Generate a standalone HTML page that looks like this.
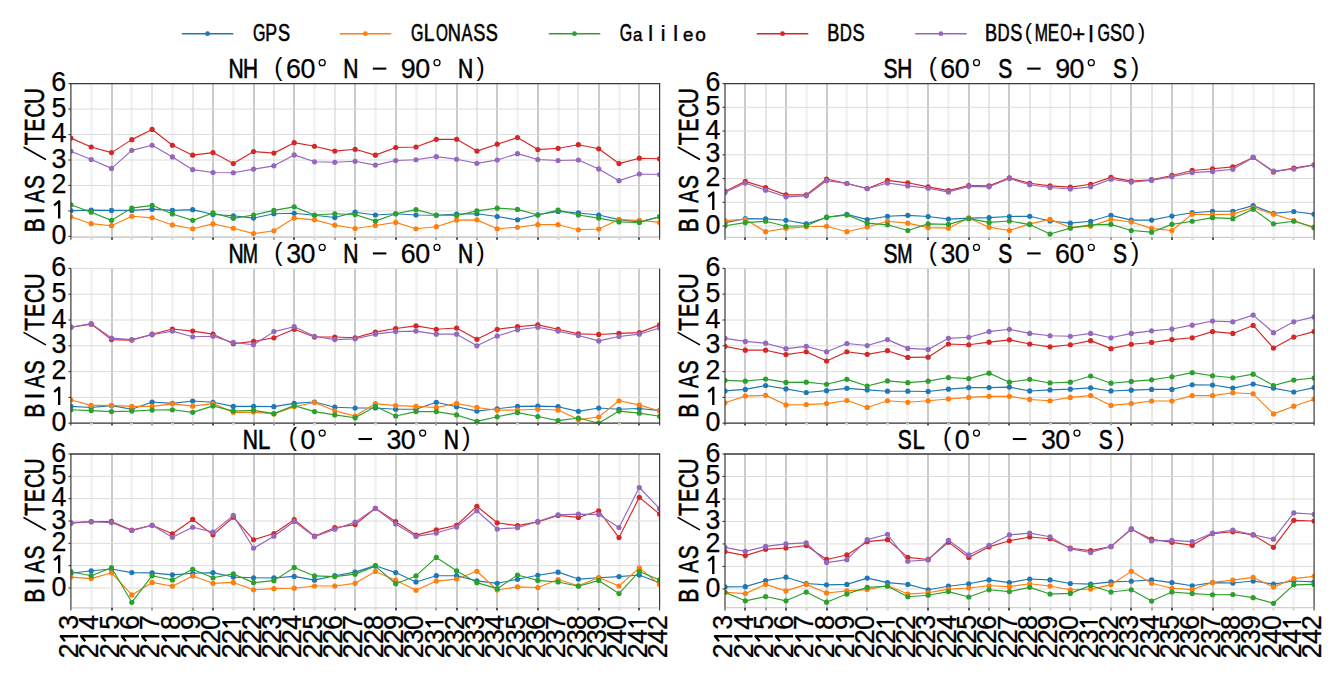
<!DOCTYPE html>
<html><head><meta charset="utf-8"><style>
html,body{margin:0;padding:0;background:#fff;overflow:hidden;}
svg{display:block;}
</style></head><body>
<svg width="1337" height="676" viewBox="0 0 1337 676">
<rect width="1337" height="676" fill="#fff"/>
<g stroke="#dcdcdc" stroke-width="1" fill="none"><rect x="90" y="83.60" width="3" height="153.70" fill="#f4f4f4" stroke="none"/><rect x="111" y="83.60" width="2" height="153.70" fill="#cbcbcb" stroke="none"/><rect x="130" y="83.60" width="3" height="153.70" fill="#f4f4f4" stroke="none"/><rect x="151" y="83.60" width="2" height="153.70" fill="#e7e7e7" stroke="none"/><rect x="171" y="83.60" width="3" height="153.70" fill="#f4f4f4" stroke="none"/><rect x="192" y="83.60" width="2" height="153.70" fill="#e7e7e7" stroke="none"/><rect x="212" y="83.60" width="2" height="153.70" fill="#cbcbcb" stroke="none"/><rect x="232" y="83.60" width="3" height="153.70" fill="#f4f4f4" stroke="none"/><rect x="253" y="83.60" width="2" height="153.70" fill="#cbcbcb" stroke="none"/><rect x="273" y="83.60" width="2" height="153.70" fill="#e7e7e7" stroke="none"/><rect x="293" y="83.60" width="2" height="153.70" fill="#cbcbcb" stroke="none"/><rect x="313" y="83.60" width="3" height="153.70" fill="#f4f4f4" stroke="none"/><rect x="334" y="83.60" width="2" height="153.70" fill="#e7e7e7" stroke="none"/><rect x="354" y="83.60" width="2" height="153.70" fill="#cbcbcb" stroke="none"/><rect x="374" y="83.60" width="3" height="153.70" fill="#f4f4f4" stroke="none"/><rect x="395" y="83.60" width="2" height="153.70" fill="#cbcbcb" stroke="none"/><rect x="415" y="83.60" width="3" height="153.70" fill="#f4f4f4" stroke="none"/><rect x="435" y="83.60" width="2" height="153.70" fill="#e7e7e7" stroke="none"/><rect x="456" y="83.60" width="2" height="153.70" fill="#cbcbcb" stroke="none"/><rect x="476" y="83.60" width="2" height="153.70" fill="#e7e7e7" stroke="none"/><rect x="496" y="83.60" width="2" height="153.70" fill="#cbcbcb" stroke="none"/><rect x="516" y="83.60" width="3" height="153.70" fill="#f4f4f4" stroke="none"/><rect x="537" y="83.60" width="2" height="153.70" fill="#cbcbcb" stroke="none"/><rect x="557" y="83.60" width="3" height="153.70" fill="#f4f4f4" stroke="none"/><rect x="577" y="83.60" width="2" height="153.70" fill="#e7e7e7" stroke="none"/><rect x="598" y="83.60" width="2" height="153.70" fill="#cbcbcb" stroke="none"/><rect x="618" y="83.60" width="3" height="153.70" fill="#f4f4f4" stroke="none"/><rect x="638" y="83.60" width="2" height="153.70" fill="#cbcbcb" stroke="none"/><line x1="70.90" y1="236.40" x2="659.60" y2="236.40" /><line x1="70.90" y1="210.93" x2="659.60" y2="210.93" /><line x1="70.90" y1="185.47" x2="659.60" y2="185.47" /><line x1="70.90" y1="160.00" x2="659.60" y2="160.00" /><line x1="70.90" y1="134.53" x2="659.60" y2="134.53" /><line x1="70.90" y1="109.07" x2="659.60" y2="109.07" /><line x1="70.90" y1="83.60" x2="659.60" y2="83.60" /></g>
<line x1="70.90" y1="237.30" x2="659.60" y2="237.30" stroke="#cfcfcf" stroke-width="1.2"/>
<clipPath id="clipNH"><rect x="70.90" y="83.60" width="588.70" height="153.70"/></clipPath>
<g clip-path="url(#clipNH)">
<polyline points="70.90,210.68 91.20,210.17 111.50,210.42 131.80,210.42 152.10,209.15 172.40,210.42 192.70,209.66 213.00,214.50 233.30,215.77 253.60,218.06 273.90,213.73 294.20,213.23 314.50,215.26 334.80,217.55 355.10,212.21 375.40,215.01 395.70,213.73 416.00,215.01 436.30,215.26 456.60,213.99 476.90,213.73 497.20,216.54 517.50,219.85 537.80,214.75 558.10,211.44 578.40,212.97 598.70,215.01 619.00,219.59 639.30,221.88 659.60,216.79" fill="none" stroke="#1f77b4" stroke-width="1.15" stroke-linejoin="round"/>
<g fill="#1f77b4"><circle cx="70.90" cy="210.68" r="2.6"/><circle cx="91.20" cy="210.17" r="2.6"/><circle cx="111.50" cy="210.42" r="2.6"/><circle cx="131.80" cy="210.42" r="2.6"/><circle cx="152.10" cy="209.15" r="2.6"/><circle cx="172.40" cy="210.42" r="2.6"/><circle cx="192.70" cy="209.66" r="2.6"/><circle cx="213.00" cy="214.50" r="2.6"/><circle cx="233.30" cy="215.77" r="2.6"/><circle cx="253.60" cy="218.06" r="2.6"/><circle cx="273.90" cy="213.73" r="2.6"/><circle cx="294.20" cy="213.23" r="2.6"/><circle cx="314.50" cy="215.26" r="2.6"/><circle cx="334.80" cy="217.55" r="2.6"/><circle cx="355.10" cy="212.21" r="2.6"/><circle cx="375.40" cy="215.01" r="2.6"/><circle cx="395.70" cy="213.73" r="2.6"/><circle cx="416.00" cy="215.01" r="2.6"/><circle cx="436.30" cy="215.26" r="2.6"/><circle cx="456.60" cy="213.99" r="2.6"/><circle cx="476.90" cy="213.73" r="2.6"/><circle cx="497.20" cy="216.54" r="2.6"/><circle cx="517.50" cy="219.85" r="2.6"/><circle cx="537.80" cy="214.75" r="2.6"/><circle cx="558.10" cy="211.44" r="2.6"/><circle cx="578.40" cy="212.97" r="2.6"/><circle cx="598.70" cy="215.01" r="2.6"/><circle cx="619.00" cy="219.59" r="2.6"/><circle cx="639.30" cy="221.88" r="2.6"/><circle cx="659.60" cy="216.79" r="2.6"/></g>
<polyline points="70.90,216.79 91.20,223.67 111.50,225.70 131.80,216.28 152.10,217.81 172.40,224.94 192.70,228.76 213.00,223.92 233.30,228.25 253.60,233.60 273.90,230.80 294.20,218.06 314.50,219.85 334.80,225.19 355.10,228.51 375.40,225.45 395.70,222.39 416.00,228.76 436.30,226.72 456.60,220.10 476.90,219.85 497.20,228.76 517.50,227.23 537.80,224.69 558.10,224.69 578.40,229.78 598.70,229.01 619.00,219.59 639.30,220.36 659.60,222.39" fill="none" stroke="#ff7f0e" stroke-width="1.15" stroke-linejoin="round"/>
<g fill="#ff7f0e"><circle cx="70.90" cy="216.79" r="2.6"/><circle cx="91.20" cy="223.67" r="2.6"/><circle cx="111.50" cy="225.70" r="2.6"/><circle cx="131.80" cy="216.28" r="2.6"/><circle cx="152.10" cy="217.81" r="2.6"/><circle cx="172.40" cy="224.94" r="2.6"/><circle cx="192.70" cy="228.76" r="2.6"/><circle cx="213.00" cy="223.92" r="2.6"/><circle cx="233.30" cy="228.25" r="2.6"/><circle cx="253.60" cy="233.60" r="2.6"/><circle cx="273.90" cy="230.80" r="2.6"/><circle cx="294.20" cy="218.06" r="2.6"/><circle cx="314.50" cy="219.85" r="2.6"/><circle cx="334.80" cy="225.19" r="2.6"/><circle cx="355.10" cy="228.51" r="2.6"/><circle cx="375.40" cy="225.45" r="2.6"/><circle cx="395.70" cy="222.39" r="2.6"/><circle cx="416.00" cy="228.76" r="2.6"/><circle cx="436.30" cy="226.72" r="2.6"/><circle cx="456.60" cy="220.10" r="2.6"/><circle cx="476.90" cy="219.85" r="2.6"/><circle cx="497.20" cy="228.76" r="2.6"/><circle cx="517.50" cy="227.23" r="2.6"/><circle cx="537.80" cy="224.69" r="2.6"/><circle cx="558.10" cy="224.69" r="2.6"/><circle cx="578.40" cy="229.78" r="2.6"/><circle cx="598.70" cy="229.01" r="2.6"/><circle cx="619.00" cy="219.59" r="2.6"/><circle cx="639.30" cy="220.36" r="2.6"/><circle cx="659.60" cy="222.39" r="2.6"/></g>
<polyline points="70.90,204.82 91.20,212.21 111.50,220.36 131.80,208.13 152.10,205.33 172.40,213.99 192.70,220.36 213.00,212.97 233.30,218.32 253.60,215.01 273.90,210.42 294.20,206.86 314.50,215.01 334.80,213.73 355.10,214.50 375.40,221.12 395.70,213.73 416.00,209.66 436.30,215.01 456.60,215.52 476.90,210.93 497.20,208.13 517.50,209.41 537.80,215.01 558.10,210.17 578.40,215.01 598.70,218.06 619.00,221.88 639.30,222.39 659.60,216.79" fill="none" stroke="#2ca02c" stroke-width="1.15" stroke-linejoin="round"/>
<g fill="#2ca02c"><circle cx="70.90" cy="204.82" r="2.6"/><circle cx="91.20" cy="212.21" r="2.6"/><circle cx="111.50" cy="220.36" r="2.6"/><circle cx="131.80" cy="208.13" r="2.6"/><circle cx="152.10" cy="205.33" r="2.6"/><circle cx="172.40" cy="213.99" r="2.6"/><circle cx="192.70" cy="220.36" r="2.6"/><circle cx="213.00" cy="212.97" r="2.6"/><circle cx="233.30" cy="218.32" r="2.6"/><circle cx="253.60" cy="215.01" r="2.6"/><circle cx="273.90" cy="210.42" r="2.6"/><circle cx="294.20" cy="206.86" r="2.6"/><circle cx="314.50" cy="215.01" r="2.6"/><circle cx="334.80" cy="213.73" r="2.6"/><circle cx="355.10" cy="214.50" r="2.6"/><circle cx="375.40" cy="221.12" r="2.6"/><circle cx="395.70" cy="213.73" r="2.6"/><circle cx="416.00" cy="209.66" r="2.6"/><circle cx="436.30" cy="215.01" r="2.6"/><circle cx="456.60" cy="215.52" r="2.6"/><circle cx="476.90" cy="210.93" r="2.6"/><circle cx="497.20" cy="208.13" r="2.6"/><circle cx="517.50" cy="209.41" r="2.6"/><circle cx="537.80" cy="215.01" r="2.6"/><circle cx="558.10" cy="210.17" r="2.6"/><circle cx="578.40" cy="215.01" r="2.6"/><circle cx="598.70" cy="218.06" r="2.6"/><circle cx="619.00" cy="221.88" r="2.6"/><circle cx="639.30" cy="222.39" r="2.6"/><circle cx="659.60" cy="216.79" r="2.6"/></g>
<polyline points="70.90,138.10 91.20,147.01 111.50,152.61 131.80,139.63 152.10,129.44 172.40,145.23 192.70,155.16 213.00,152.61 233.30,163.57 253.60,151.60 273.90,153.12 294.20,142.68 314.50,146.25 334.80,151.09 355.10,149.30 375.40,155.16 395.70,147.52 416.00,147.01 436.30,139.37 456.60,139.37 476.90,151.09 497.20,144.21 517.50,137.59 537.80,149.56 558.10,148.29 578.40,144.72 598.70,148.79 619.00,163.57 639.30,158.22 659.60,158.73" fill="none" stroke="#d62728" stroke-width="1.15" stroke-linejoin="round"/>
<g fill="#d62728"><circle cx="70.90" cy="138.10" r="2.6"/><circle cx="91.20" cy="147.01" r="2.6"/><circle cx="111.50" cy="152.61" r="2.6"/><circle cx="131.80" cy="139.63" r="2.6"/><circle cx="152.10" cy="129.44" r="2.6"/><circle cx="172.40" cy="145.23" r="2.6"/><circle cx="192.70" cy="155.16" r="2.6"/><circle cx="213.00" cy="152.61" r="2.6"/><circle cx="233.30" cy="163.57" r="2.6"/><circle cx="253.60" cy="151.60" r="2.6"/><circle cx="273.90" cy="153.12" r="2.6"/><circle cx="294.20" cy="142.68" r="2.6"/><circle cx="314.50" cy="146.25" r="2.6"/><circle cx="334.80" cy="151.09" r="2.6"/><circle cx="355.10" cy="149.30" r="2.6"/><circle cx="375.40" cy="155.16" r="2.6"/><circle cx="395.70" cy="147.52" r="2.6"/><circle cx="416.00" cy="147.01" r="2.6"/><circle cx="436.30" cy="139.37" r="2.6"/><circle cx="456.60" cy="139.37" r="2.6"/><circle cx="476.90" cy="151.09" r="2.6"/><circle cx="497.20" cy="144.21" r="2.6"/><circle cx="517.50" cy="137.59" r="2.6"/><circle cx="537.80" cy="149.56" r="2.6"/><circle cx="558.10" cy="148.29" r="2.6"/><circle cx="578.40" cy="144.72" r="2.6"/><circle cx="598.70" cy="148.79" r="2.6"/><circle cx="619.00" cy="163.57" r="2.6"/><circle cx="639.30" cy="158.22" r="2.6"/><circle cx="659.60" cy="158.73" r="2.6"/></g>
<polyline points="70.90,151.34 91.20,159.49 111.50,168.40 131.80,150.32 152.10,145.23 172.40,156.94 192.70,169.68 213.00,172.48 233.30,172.73 253.60,169.17 273.90,165.86 294.20,154.91 314.50,161.78 334.80,162.29 355.10,161.27 375.40,165.09 395.70,160.51 416.00,159.75 436.30,156.69 456.60,159.24 476.90,163.31 497.20,160.00 517.50,153.63 537.80,159.49 558.10,160.51 578.40,160.00 598.70,168.91 619.00,180.63 639.30,174.01 659.60,174.52" fill="none" stroke="#9467bd" stroke-width="1.15" stroke-linejoin="round"/>
<g fill="#9467bd"><circle cx="70.90" cy="151.34" r="2.6"/><circle cx="91.20" cy="159.49" r="2.6"/><circle cx="111.50" cy="168.40" r="2.6"/><circle cx="131.80" cy="150.32" r="2.6"/><circle cx="152.10" cy="145.23" r="2.6"/><circle cx="172.40" cy="156.94" r="2.6"/><circle cx="192.70" cy="169.68" r="2.6"/><circle cx="213.00" cy="172.48" r="2.6"/><circle cx="233.30" cy="172.73" r="2.6"/><circle cx="253.60" cy="169.17" r="2.6"/><circle cx="273.90" cy="165.86" r="2.6"/><circle cx="294.20" cy="154.91" r="2.6"/><circle cx="314.50" cy="161.78" r="2.6"/><circle cx="334.80" cy="162.29" r="2.6"/><circle cx="355.10" cy="161.27" r="2.6"/><circle cx="375.40" cy="165.09" r="2.6"/><circle cx="395.70" cy="160.51" r="2.6"/><circle cx="416.00" cy="159.75" r="2.6"/><circle cx="436.30" cy="156.69" r="2.6"/><circle cx="456.60" cy="159.24" r="2.6"/><circle cx="476.90" cy="163.31" r="2.6"/><circle cx="497.20" cy="160.00" r="2.6"/><circle cx="517.50" cy="153.63" r="2.6"/><circle cx="537.80" cy="159.49" r="2.6"/><circle cx="558.10" cy="160.51" r="2.6"/><circle cx="578.40" cy="160.00" r="2.6"/><circle cx="598.70" cy="168.91" r="2.6"/><circle cx="619.00" cy="180.63" r="2.6"/><circle cx="639.30" cy="174.01" r="2.6"/><circle cx="659.60" cy="174.52" r="2.6"/></g>
</g>
<line x1="70.90" y1="83.60" x2="70.90" y2="237.30" stroke="#3a3a3a" stroke-width="1.2"/>
<line x1="659.60" y1="83.60" x2="659.60" y2="237.30" stroke="#3a3a3a" stroke-width="1.2"/>
<line x1="70.30" y1="83.60" x2="660.20" y2="83.60" stroke="#3a3a3a" stroke-width="1.3"/>
<g stroke="#3a3a3a" stroke-width="1.1"><line x1="70.90" y1="237.30" x2="70.90" y2="239.80" /><rect x="90" y="237.30" width="3" height="2.50" fill="#dedede" stroke="none"/><rect x="111" y="237.30" width="2" height="2.50" fill="#505050" stroke="none"/><rect x="130" y="237.30" width="3" height="2.50" fill="#dedede" stroke="none"/><rect x="151" y="237.30" width="2" height="2.50" fill="#a0a0a0" stroke="none"/><rect x="171" y="237.30" width="3" height="2.50" fill="#dedede" stroke="none"/><rect x="192" y="237.30" width="2" height="2.50" fill="#a0a0a0" stroke="none"/><rect x="212" y="237.30" width="2" height="2.50" fill="#505050" stroke="none"/><rect x="232" y="237.30" width="3" height="2.50" fill="#dedede" stroke="none"/><rect x="253" y="237.30" width="2" height="2.50" fill="#505050" stroke="none"/><rect x="273" y="237.30" width="2" height="2.50" fill="#a0a0a0" stroke="none"/><rect x="293" y="237.30" width="2" height="2.50" fill="#505050" stroke="none"/><rect x="313" y="237.30" width="3" height="2.50" fill="#dedede" stroke="none"/><rect x="334" y="237.30" width="2" height="2.50" fill="#a0a0a0" stroke="none"/><rect x="354" y="237.30" width="2" height="2.50" fill="#505050" stroke="none"/><rect x="374" y="237.30" width="3" height="2.50" fill="#dedede" stroke="none"/><rect x="395" y="237.30" width="2" height="2.50" fill="#505050" stroke="none"/><rect x="415" y="237.30" width="3" height="2.50" fill="#dedede" stroke="none"/><rect x="435" y="237.30" width="2" height="2.50" fill="#a0a0a0" stroke="none"/><rect x="456" y="237.30" width="2" height="2.50" fill="#505050" stroke="none"/><rect x="476" y="237.30" width="2" height="2.50" fill="#a0a0a0" stroke="none"/><rect x="496" y="237.30" width="2" height="2.50" fill="#505050" stroke="none"/><rect x="516" y="237.30" width="3" height="2.50" fill="#dedede" stroke="none"/><rect x="537" y="237.30" width="2" height="2.50" fill="#505050" stroke="none"/><rect x="557" y="237.30" width="3" height="2.50" fill="#dedede" stroke="none"/><rect x="577" y="237.30" width="2" height="2.50" fill="#a0a0a0" stroke="none"/><rect x="598" y="237.30" width="2" height="2.50" fill="#505050" stroke="none"/><rect x="618" y="237.30" width="3" height="2.50" fill="#dedede" stroke="none"/><rect x="638" y="237.30" width="2" height="2.50" fill="#505050" stroke="none"/><line x1="659.60" y1="237.30" x2="659.60" y2="239.80" /><line x1="68.40" y1="236.40" x2="70.90" y2="236.40" /><line x1="68.40" y1="210.93" x2="70.90" y2="210.93" /><line x1="68.40" y1="185.47" x2="70.90" y2="185.47" /><line x1="68.40" y1="160.00" x2="70.90" y2="160.00" /><line x1="68.40" y1="134.53" x2="70.90" y2="134.53" /><line x1="68.40" y1="109.07" x2="70.90" y2="109.07" /><line x1="68.40" y1="83.60" x2="70.90" y2="83.60" /></g>
<g font-family="'Liberation Sans', sans-serif" font-size="26.8" fill="#000" stroke="#000" stroke-width="0.25"><text x="51.40" y="244.03">0</text><path d="M54.16,205.43 L59.17,201.27 L59.17,218.56" fill="none" stroke-width="2.36" stroke-linejoin="round"/><text x="51.40" y="193.09">2</text><text x="51.48" y="167.63">3</text><text x="51.48" y="142.16">4</text><text x="51.42" y="116.69">5</text><text x="51.31" y="91.23">6</text></g>
<g transform="translate(44.30,160.45) rotate(-90)" font-family="'Liberation Sans', sans-serif" font-size="26.8" fill="#000" stroke="#000" stroke-width="0.25"><text transform="scale(0.7847,1.0000)" x="-91.62" y="0.00" stroke-width="0.65">B</text><text x="-53.95" y="0.00">I</text><text transform="scale(0.7106,1.0000)" x="-59.42" y="0.00" stroke-width="0.65">A</text><text transform="scale(0.7813,1.0000)" x="-36.48" y="0.00" stroke-width="0.65">S</text><line x1="1.14" y1="1.07" x2="13.20" y2="-20.23" stroke-width="1.61" stroke-linecap="round"/><text transform="scale(0.7765,1.0000)" x="19.54" y="0.00" stroke-width="0.65">T</text><text transform="scale(0.7311,1.0000)" x="39.61" y="0.00" stroke-width="0.65">E</text><text transform="scale(0.7440,1.0000)" x="57.66" y="0.00" stroke-width="0.65">C</text><text transform="scale(0.8298,1.0000)" x="68.15" y="0.00" stroke-width="0.65">U</text></g>
<g font-family="'Liberation Sans', sans-serif" font-size="26.8" fill="#000" stroke="#000" stroke-width="0.25"><text transform="scale(0.7860,1.0000)" x="290.69" y="78.40" stroke-width="0.65">N</text><text transform="scale(0.7764,1.0000)" x="312.88" y="78.40" stroke-width="0.65">H</text><text transform="scale(0.9200,0.9300)" x="298.21" y="81.46" stroke-width="0">(</text><text x="285.96" y="78.40">6</text><text x="300.40" y="78.40">0</text><circle cx="322.20" cy="62.64" r="3.00" fill="none" stroke-width="1.26"/><text transform="scale(0.7860,1.0000)" x="436.74" y="78.40" stroke-width="0.65">N</text><rect x="372.86" y="67.60" width="13.49" height="2.04" stroke="none"/><text x="400.85" y="78.40">9</text><text x="415.20" y="78.40">0</text><circle cx="437.00" cy="62.64" r="3.00" fill="none" stroke-width="1.26"/><text transform="scale(0.7860,1.0000)" x="582.79" y="78.40" stroke-width="0.65">N</text><text transform="scale(0.9200,0.9300)" x="518.08" y="81.46" stroke-width="0">)</text></g>
<g stroke="#dcdcdc" stroke-width="1" fill="none"><rect x="744" y="83.60" width="2" height="153.70" fill="#cbcbcb" stroke="none"/><rect x="765" y="83.60" width="2" height="153.70" fill="#e7e7e7" stroke="none"/><rect x="785" y="83.60" width="2" height="153.70" fill="#cbcbcb" stroke="none"/><rect x="805" y="83.60" width="3" height="153.70" fill="#f4f4f4" stroke="none"/><rect x="826" y="83.60" width="2" height="153.70" fill="#cbcbcb" stroke="none"/><rect x="845" y="83.60" width="3" height="153.70" fill="#f4f4f4" stroke="none"/><rect x="866" y="83.60" width="2" height="153.70" fill="#e7e7e7" stroke="none"/><rect x="886" y="83.60" width="3" height="153.70" fill="#f4f4f4" stroke="none"/><rect x="906" y="83.60" width="3" height="153.70" fill="#f4f4f4" stroke="none"/><rect x="927" y="83.60" width="2" height="153.70" fill="#cbcbcb" stroke="none"/><rect x="947" y="83.60" width="3" height="153.70" fill="#f4f4f4" stroke="none"/><rect x="968" y="83.60" width="2" height="153.70" fill="#cbcbcb" stroke="none"/><rect x="988" y="83.60" width="2" height="153.70" fill="#e7e7e7" stroke="none"/><rect x="1008" y="83.60" width="2" height="153.70" fill="#cbcbcb" stroke="none"/><rect x="1029" y="83.60" width="2" height="153.70" fill="#e7e7e7" stroke="none"/><rect x="1049" y="83.60" width="3" height="153.70" fill="#f4f4f4" stroke="none"/><rect x="1069" y="83.60" width="2" height="153.70" fill="#e7e7e7" stroke="none"/><rect x="1089" y="83.60" width="3" height="153.70" fill="#f4f4f4" stroke="none"/><rect x="1110" y="83.60" width="2" height="153.70" fill="#e7e7e7" stroke="none"/><rect x="1130" y="83.60" width="2" height="153.70" fill="#cbcbcb" stroke="none"/><rect x="1151" y="83.60" width="2" height="153.70" fill="#e7e7e7" stroke="none"/><rect x="1171" y="83.60" width="2" height="153.70" fill="#cbcbcb" stroke="none"/><rect x="1191" y="83.60" width="3" height="153.70" fill="#f4f4f4" stroke="none"/><rect x="1212" y="83.60" width="2" height="153.70" fill="#cbcbcb" stroke="none"/><rect x="1231" y="83.60" width="3" height="153.70" fill="#f4f4f4" stroke="none"/><rect x="1252" y="83.60" width="3" height="153.70" fill="#f4f4f4" stroke="none"/><rect x="1272" y="83.60" width="3" height="153.70" fill="#f4f4f4" stroke="none"/><rect x="1292" y="83.60" width="3" height="153.70" fill="#f4f4f4" stroke="none"/><line x1="725.00" y1="226.00" x2="1314.10" y2="226.00" /><line x1="725.00" y1="202.27" x2="1314.10" y2="202.27" /><line x1="725.00" y1="178.53" x2="1314.10" y2="178.53" /><line x1="725.00" y1="154.80" x2="1314.10" y2="154.80" /><line x1="725.00" y1="131.07" x2="1314.10" y2="131.07" /><line x1="725.00" y1="107.33" x2="1314.10" y2="107.33" /><line x1="725.00" y1="83.60" x2="1314.10" y2="83.60" /></g>
<line x1="725.00" y1="237.30" x2="1314.10" y2="237.30" stroke="#cfcfcf" stroke-width="1.2"/>
<clipPath id="clipSH"><rect x="725.00" y="83.60" width="589.10" height="153.70"/></clipPath>
<g clip-path="url(#clipSH)">
<polyline points="725.00,222.68 745.31,218.64 765.63,218.88 785.94,220.30 806.26,223.86 826.57,217.46 846.88,214.37 867.20,219.59 887.51,216.27 907.82,215.32 928.14,216.51 948.45,219.12 968.77,218.17 989.08,217.69 1009.39,216.51 1029.71,216.27 1050.02,221.02 1070.33,223.15 1090.65,221.25 1110.96,215.32 1131.28,220.07 1151.59,220.07 1171.90,216.03 1192.22,212.71 1212.53,211.29 1232.84,211.29 1253.16,205.59 1273.47,213.42 1293.79,211.52 1314.10,214.13" fill="none" stroke="#1f77b4" stroke-width="1.15" stroke-linejoin="round"/>
<g fill="#1f77b4"><circle cx="725.00" cy="222.68" r="2.6"/><circle cx="745.31" cy="218.64" r="2.6"/><circle cx="765.63" cy="218.88" r="2.6"/><circle cx="785.94" cy="220.30" r="2.6"/><circle cx="806.26" cy="223.86" r="2.6"/><circle cx="826.57" cy="217.46" r="2.6"/><circle cx="846.88" cy="214.37" r="2.6"/><circle cx="867.20" cy="219.59" r="2.6"/><circle cx="887.51" cy="216.27" r="2.6"/><circle cx="907.82" cy="215.32" r="2.6"/><circle cx="928.14" cy="216.51" r="2.6"/><circle cx="948.45" cy="219.12" r="2.6"/><circle cx="968.77" cy="218.17" r="2.6"/><circle cx="989.08" cy="217.69" r="2.6"/><circle cx="1009.39" cy="216.51" r="2.6"/><circle cx="1029.71" cy="216.27" r="2.6"/><circle cx="1050.02" cy="221.02" r="2.6"/><circle cx="1070.33" cy="223.15" r="2.6"/><circle cx="1090.65" cy="221.25" r="2.6"/><circle cx="1110.96" cy="215.32" r="2.6"/><circle cx="1131.28" cy="220.07" r="2.6"/><circle cx="1151.59" cy="220.07" r="2.6"/><circle cx="1171.90" cy="216.03" r="2.6"/><circle cx="1192.22" cy="212.71" r="2.6"/><circle cx="1212.53" cy="211.29" r="2.6"/><circle cx="1232.84" cy="211.29" r="2.6"/><circle cx="1253.16" cy="205.59" r="2.6"/><circle cx="1273.47" cy="213.42" r="2.6"/><circle cx="1293.79" cy="211.52" r="2.6"/><circle cx="1314.10" cy="214.13" r="2.6"/></g>
<polyline points="725.00,220.54 745.31,219.35 765.63,231.70 785.94,228.37 806.26,226.71 826.57,226.24 846.88,231.70 867.20,226.95 887.51,221.25 907.82,223.15 928.14,227.66 948.45,228.14 968.77,217.93 989.08,227.19 1009.39,230.51 1029.71,223.86 1050.02,219.35 1070.33,227.42 1090.65,226.24 1110.96,219.35 1131.28,221.97 1151.59,228.37 1171.90,230.51 1192.22,214.13 1212.53,214.61 1232.84,214.13 1253.16,207.73 1273.47,214.13 1293.79,220.54 1314.10,227.90" fill="none" stroke="#ff7f0e" stroke-width="1.15" stroke-linejoin="round"/>
<g fill="#ff7f0e"><circle cx="725.00" cy="220.54" r="2.6"/><circle cx="745.31" cy="219.35" r="2.6"/><circle cx="765.63" cy="231.70" r="2.6"/><circle cx="785.94" cy="228.37" r="2.6"/><circle cx="806.26" cy="226.71" r="2.6"/><circle cx="826.57" cy="226.24" r="2.6"/><circle cx="846.88" cy="231.70" r="2.6"/><circle cx="867.20" cy="226.95" r="2.6"/><circle cx="887.51" cy="221.25" r="2.6"/><circle cx="907.82" cy="223.15" r="2.6"/><circle cx="928.14" cy="227.66" r="2.6"/><circle cx="948.45" cy="228.14" r="2.6"/><circle cx="968.77" cy="217.93" r="2.6"/><circle cx="989.08" cy="227.19" r="2.6"/><circle cx="1009.39" cy="230.51" r="2.6"/><circle cx="1029.71" cy="223.86" r="2.6"/><circle cx="1050.02" cy="219.35" r="2.6"/><circle cx="1070.33" cy="227.42" r="2.6"/><circle cx="1090.65" cy="226.24" r="2.6"/><circle cx="1110.96" cy="219.35" r="2.6"/><circle cx="1131.28" cy="221.97" r="2.6"/><circle cx="1151.59" cy="228.37" r="2.6"/><circle cx="1171.90" cy="230.51" r="2.6"/><circle cx="1192.22" cy="214.13" r="2.6"/><circle cx="1212.53" cy="214.61" r="2.6"/><circle cx="1232.84" cy="214.13" r="2.6"/><circle cx="1253.16" cy="207.73" r="2.6"/><circle cx="1273.47" cy="214.13" r="2.6"/><circle cx="1293.79" cy="220.54" r="2.6"/><circle cx="1314.10" cy="227.90" r="2.6"/></g>
<polyline points="725.00,225.76 745.31,222.68 765.63,221.25 785.94,226.24 806.26,225.76 826.57,216.98 846.88,215.08 867.20,223.15 887.51,224.81 907.82,230.51 928.14,223.86 948.45,224.34 968.77,218.64 989.08,222.44 1009.39,221.02 1029.71,224.58 1050.02,234.07 1070.33,228.14 1090.65,224.81 1110.96,224.34 1131.28,230.51 1151.59,232.17 1171.90,224.34 1192.22,221.25 1212.53,217.69 1232.84,218.64 1253.16,209.15 1273.47,223.86 1293.79,221.25 1314.10,227.19" fill="none" stroke="#2ca02c" stroke-width="1.15" stroke-linejoin="round"/>
<g fill="#2ca02c"><circle cx="725.00" cy="225.76" r="2.6"/><circle cx="745.31" cy="222.68" r="2.6"/><circle cx="765.63" cy="221.25" r="2.6"/><circle cx="785.94" cy="226.24" r="2.6"/><circle cx="806.26" cy="225.76" r="2.6"/><circle cx="826.57" cy="216.98" r="2.6"/><circle cx="846.88" cy="215.08" r="2.6"/><circle cx="867.20" cy="223.15" r="2.6"/><circle cx="887.51" cy="224.81" r="2.6"/><circle cx="907.82" cy="230.51" r="2.6"/><circle cx="928.14" cy="223.86" r="2.6"/><circle cx="948.45" cy="224.34" r="2.6"/><circle cx="968.77" cy="218.64" r="2.6"/><circle cx="989.08" cy="222.44" r="2.6"/><circle cx="1009.39" cy="221.02" r="2.6"/><circle cx="1029.71" cy="224.58" r="2.6"/><circle cx="1050.02" cy="234.07" r="2.6"/><circle cx="1070.33" cy="228.14" r="2.6"/><circle cx="1090.65" cy="224.81" r="2.6"/><circle cx="1110.96" cy="224.34" r="2.6"/><circle cx="1131.28" cy="230.51" r="2.6"/><circle cx="1151.59" cy="232.17" r="2.6"/><circle cx="1171.90" cy="224.34" r="2.6"/><circle cx="1192.22" cy="221.25" r="2.6"/><circle cx="1212.53" cy="217.69" r="2.6"/><circle cx="1232.84" cy="218.64" r="2.6"/><circle cx="1253.16" cy="209.15" r="2.6"/><circle cx="1273.47" cy="223.86" r="2.6"/><circle cx="1293.79" cy="221.25" r="2.6"/><circle cx="1314.10" cy="227.19" r="2.6"/></g>
<polyline points="725.00,191.35 745.31,181.38 765.63,187.55 785.94,194.91 806.26,194.91 826.57,179.01 846.88,183.52 867.20,188.50 887.51,180.43 907.82,182.81 928.14,186.84 948.45,190.64 968.77,185.65 989.08,185.89 1009.39,177.82 1029.71,183.28 1050.02,185.89 1070.33,187.08 1090.65,184.23 1110.96,177.35 1131.28,181.14 1151.59,179.72 1171.90,175.45 1192.22,170.46 1212.53,168.80 1232.84,166.90 1253.16,157.41 1273.47,171.89 1293.79,168.09 1314.10,164.77" fill="none" stroke="#d62728" stroke-width="1.15" stroke-linejoin="round"/>
<g fill="#d62728"><circle cx="725.00" cy="191.35" r="2.6"/><circle cx="745.31" cy="181.38" r="2.6"/><circle cx="765.63" cy="187.55" r="2.6"/><circle cx="785.94" cy="194.91" r="2.6"/><circle cx="806.26" cy="194.91" r="2.6"/><circle cx="826.57" cy="179.01" r="2.6"/><circle cx="846.88" cy="183.52" r="2.6"/><circle cx="867.20" cy="188.50" r="2.6"/><circle cx="887.51" cy="180.43" r="2.6"/><circle cx="907.82" cy="182.81" r="2.6"/><circle cx="928.14" cy="186.84" r="2.6"/><circle cx="948.45" cy="190.64" r="2.6"/><circle cx="968.77" cy="185.65" r="2.6"/><circle cx="989.08" cy="185.89" r="2.6"/><circle cx="1009.39" cy="177.82" r="2.6"/><circle cx="1029.71" cy="183.28" r="2.6"/><circle cx="1050.02" cy="185.89" r="2.6"/><circle cx="1070.33" cy="187.08" r="2.6"/><circle cx="1090.65" cy="184.23" r="2.6"/><circle cx="1110.96" cy="177.35" r="2.6"/><circle cx="1131.28" cy="181.14" r="2.6"/><circle cx="1151.59" cy="179.72" r="2.6"/><circle cx="1171.90" cy="175.45" r="2.6"/><circle cx="1192.22" cy="170.46" r="2.6"/><circle cx="1212.53" cy="168.80" r="2.6"/><circle cx="1232.84" cy="166.90" r="2.6"/><circle cx="1253.16" cy="157.41" r="2.6"/><circle cx="1273.47" cy="171.89" r="2.6"/><circle cx="1293.79" cy="168.09" r="2.6"/><circle cx="1314.10" cy="164.77" r="2.6"/></g>
<polyline points="725.00,192.54 745.31,183.04 765.63,190.16 785.94,196.81 806.26,195.86 826.57,180.67 846.88,183.52 867.20,188.74 887.51,183.04 907.82,185.89 928.14,188.26 948.45,192.06 968.77,186.37 989.08,186.84 1009.39,178.53 1029.71,184.70 1050.02,187.55 1070.33,188.98 1090.65,186.84 1110.96,179.25 1131.28,182.09 1151.59,180.43 1171.90,176.63 1192.22,172.60 1212.53,171.41 1232.84,169.28 1253.16,157.41 1273.47,171.18 1293.79,169.04 1314.10,165.01" fill="none" stroke="#9467bd" stroke-width="1.15" stroke-linejoin="round"/>
<g fill="#9467bd"><circle cx="725.00" cy="192.54" r="2.6"/><circle cx="745.31" cy="183.04" r="2.6"/><circle cx="765.63" cy="190.16" r="2.6"/><circle cx="785.94" cy="196.81" r="2.6"/><circle cx="806.26" cy="195.86" r="2.6"/><circle cx="826.57" cy="180.67" r="2.6"/><circle cx="846.88" cy="183.52" r="2.6"/><circle cx="867.20" cy="188.74" r="2.6"/><circle cx="887.51" cy="183.04" r="2.6"/><circle cx="907.82" cy="185.89" r="2.6"/><circle cx="928.14" cy="188.26" r="2.6"/><circle cx="948.45" cy="192.06" r="2.6"/><circle cx="968.77" cy="186.37" r="2.6"/><circle cx="989.08" cy="186.84" r="2.6"/><circle cx="1009.39" cy="178.53" r="2.6"/><circle cx="1029.71" cy="184.70" r="2.6"/><circle cx="1050.02" cy="187.55" r="2.6"/><circle cx="1070.33" cy="188.98" r="2.6"/><circle cx="1090.65" cy="186.84" r="2.6"/><circle cx="1110.96" cy="179.25" r="2.6"/><circle cx="1131.28" cy="182.09" r="2.6"/><circle cx="1151.59" cy="180.43" r="2.6"/><circle cx="1171.90" cy="176.63" r="2.6"/><circle cx="1192.22" cy="172.60" r="2.6"/><circle cx="1212.53" cy="171.41" r="2.6"/><circle cx="1232.84" cy="169.28" r="2.6"/><circle cx="1253.16" cy="157.41" r="2.6"/><circle cx="1273.47" cy="171.18" r="2.6"/><circle cx="1293.79" cy="169.04" r="2.6"/><circle cx="1314.10" cy="165.01" r="2.6"/></g>
</g>
<line x1="725.00" y1="83.60" x2="725.00" y2="237.30" stroke="#3a3a3a" stroke-width="1.2"/>
<line x1="1314.10" y1="83.60" x2="1314.10" y2="237.30" stroke="#3a3a3a" stroke-width="1.2"/>
<line x1="724.40" y1="83.60" x2="1314.70" y2="83.60" stroke="#3a3a3a" stroke-width="1.3"/>
<g stroke="#3a3a3a" stroke-width="1.1"><line x1="725.00" y1="237.30" x2="725.00" y2="239.90" /><rect x="744" y="237.30" width="2" height="2.60" fill="#505050" stroke="none"/><rect x="765" y="237.30" width="2" height="2.60" fill="#a0a0a0" stroke="none"/><rect x="785" y="237.30" width="2" height="2.60" fill="#505050" stroke="none"/><rect x="805" y="237.30" width="3" height="2.60" fill="#dedede" stroke="none"/><rect x="826" y="237.30" width="2" height="2.60" fill="#505050" stroke="none"/><rect x="845" y="237.30" width="3" height="2.60" fill="#dedede" stroke="none"/><rect x="866" y="237.30" width="2" height="2.60" fill="#a0a0a0" stroke="none"/><rect x="886" y="237.30" width="3" height="2.60" fill="#dedede" stroke="none"/><rect x="906" y="237.30" width="3" height="2.60" fill="#dedede" stroke="none"/><rect x="927" y="237.30" width="2" height="2.60" fill="#505050" stroke="none"/><rect x="947" y="237.30" width="3" height="2.60" fill="#dedede" stroke="none"/><rect x="968" y="237.30" width="2" height="2.60" fill="#505050" stroke="none"/><rect x="988" y="237.30" width="2" height="2.60" fill="#a0a0a0" stroke="none"/><rect x="1008" y="237.30" width="2" height="2.60" fill="#505050" stroke="none"/><rect x="1029" y="237.30" width="2" height="2.60" fill="#a0a0a0" stroke="none"/><rect x="1049" y="237.30" width="3" height="2.60" fill="#dedede" stroke="none"/><rect x="1069" y="237.30" width="2" height="2.60" fill="#a0a0a0" stroke="none"/><rect x="1089" y="237.30" width="3" height="2.60" fill="#dedede" stroke="none"/><rect x="1110" y="237.30" width="2" height="2.60" fill="#a0a0a0" stroke="none"/><rect x="1130" y="237.30" width="2" height="2.60" fill="#505050" stroke="none"/><rect x="1151" y="237.30" width="2" height="2.60" fill="#a0a0a0" stroke="none"/><rect x="1171" y="237.30" width="2" height="2.60" fill="#505050" stroke="none"/><rect x="1191" y="237.30" width="3" height="2.60" fill="#dedede" stroke="none"/><rect x="1212" y="237.30" width="2" height="2.60" fill="#505050" stroke="none"/><rect x="1231" y="237.30" width="3" height="2.60" fill="#dedede" stroke="none"/><rect x="1252" y="237.30" width="3" height="2.60" fill="#dedede" stroke="none"/><rect x="1272" y="237.30" width="3" height="2.60" fill="#dedede" stroke="none"/><rect x="1292" y="237.30" width="3" height="2.60" fill="#dedede" stroke="none"/><line x1="1314.10" y1="237.30" x2="1314.10" y2="239.90" /><line x1="722.50" y1="226.00" x2="725.00" y2="226.00" /><line x1="722.50" y1="202.27" x2="725.00" y2="202.27" /><line x1="722.50" y1="178.53" x2="725.00" y2="178.53" /><line x1="722.50" y1="154.80" x2="725.00" y2="154.80" /><line x1="722.50" y1="131.07" x2="725.00" y2="131.07" /><line x1="722.50" y1="107.33" x2="725.00" y2="107.33" /><line x1="722.50" y1="83.60" x2="725.00" y2="83.60" /></g>
<g font-family="'Liberation Sans', sans-serif" font-size="26.8" fill="#000" stroke="#000" stroke-width="0.25"><text x="705.50" y="233.63">0</text><path d="M708.26,196.76 L713.27,192.61 L713.27,209.89" fill="none" stroke-width="2.36" stroke-linejoin="round"/><text x="705.50" y="186.16">2</text><text x="705.58" y="162.43">3</text><text x="705.58" y="138.69">4</text><text x="705.52" y="114.96">5</text><text x="705.41" y="91.23">6</text></g>
<g transform="translate(698.40,160.45) rotate(-90)" font-family="'Liberation Sans', sans-serif" font-size="26.8" fill="#000" stroke="#000" stroke-width="0.25"><text transform="scale(0.7847,1.0000)" x="-91.62" y="0.00" stroke-width="0.65">B</text><text x="-53.95" y="0.00">I</text><text transform="scale(0.7106,1.0000)" x="-59.42" y="0.00" stroke-width="0.65">A</text><text transform="scale(0.7813,1.0000)" x="-36.48" y="0.00" stroke-width="0.65">S</text><line x1="1.14" y1="1.07" x2="13.20" y2="-20.23" stroke-width="1.61" stroke-linecap="round"/><text transform="scale(0.7765,1.0000)" x="19.54" y="0.00" stroke-width="0.65">T</text><text transform="scale(0.7311,1.0000)" x="39.61" y="0.00" stroke-width="0.65">E</text><text transform="scale(0.7440,1.0000)" x="57.66" y="0.00" stroke-width="0.65">C</text><text transform="scale(0.8298,1.0000)" x="68.15" y="0.00" stroke-width="0.65">U</text></g>
<g font-family="'Liberation Sans', sans-serif" font-size="26.8" fill="#000" stroke="#000" stroke-width="0.25"><text transform="scale(0.7813,1.0000)" x="1130.72" y="78.40" stroke-width="0.65">S</text><text transform="scale(0.7764,1.0000)" x="1155.58" y="78.40" stroke-width="0.65">H</text><text transform="scale(0.9200,0.9300)" x="1009.40" y="81.46" stroke-width="0">(</text><text x="940.26" y="78.40">6</text><text x="954.70" y="78.40">0</text><circle cx="976.50" cy="62.64" r="3.00" fill="none" stroke-width="1.26"/><text transform="scale(0.7813,1.0000)" x="1277.66" y="78.40" stroke-width="0.65">S</text><rect x="1027.16" y="67.60" width="13.49" height="2.04" stroke="none"/><text x="1055.15" y="78.40">9</text><text x="1069.50" y="78.40">0</text><circle cx="1091.30" cy="62.64" r="3.00" fill="none" stroke-width="1.26"/><text transform="scale(0.7813,1.0000)" x="1424.59" y="78.40" stroke-width="0.65">S</text><text transform="scale(0.9200,0.9300)" x="1229.28" y="81.46" stroke-width="0">)</text></g>
<g stroke="#dcdcdc" stroke-width="1" fill="none"><rect x="90" y="268.40" width="3" height="154.80" fill="#f4f4f4" stroke="none"/><rect x="111" y="268.40" width="2" height="154.80" fill="#cbcbcb" stroke="none"/><rect x="130" y="268.40" width="3" height="154.80" fill="#f4f4f4" stroke="none"/><rect x="151" y="268.40" width="2" height="154.80" fill="#e7e7e7" stroke="none"/><rect x="171" y="268.40" width="3" height="154.80" fill="#f4f4f4" stroke="none"/><rect x="192" y="268.40" width="2" height="154.80" fill="#e7e7e7" stroke="none"/><rect x="212" y="268.40" width="2" height="154.80" fill="#cbcbcb" stroke="none"/><rect x="232" y="268.40" width="3" height="154.80" fill="#f4f4f4" stroke="none"/><rect x="253" y="268.40" width="2" height="154.80" fill="#cbcbcb" stroke="none"/><rect x="273" y="268.40" width="2" height="154.80" fill="#e7e7e7" stroke="none"/><rect x="293" y="268.40" width="2" height="154.80" fill="#cbcbcb" stroke="none"/><rect x="313" y="268.40" width="3" height="154.80" fill="#f4f4f4" stroke="none"/><rect x="334" y="268.40" width="2" height="154.80" fill="#e7e7e7" stroke="none"/><rect x="354" y="268.40" width="2" height="154.80" fill="#cbcbcb" stroke="none"/><rect x="374" y="268.40" width="3" height="154.80" fill="#f4f4f4" stroke="none"/><rect x="395" y="268.40" width="2" height="154.80" fill="#cbcbcb" stroke="none"/><rect x="415" y="268.40" width="3" height="154.80" fill="#f4f4f4" stroke="none"/><rect x="435" y="268.40" width="2" height="154.80" fill="#e7e7e7" stroke="none"/><rect x="456" y="268.40" width="2" height="154.80" fill="#cbcbcb" stroke="none"/><rect x="476" y="268.40" width="2" height="154.80" fill="#e7e7e7" stroke="none"/><rect x="496" y="268.40" width="2" height="154.80" fill="#cbcbcb" stroke="none"/><rect x="516" y="268.40" width="3" height="154.80" fill="#f4f4f4" stroke="none"/><rect x="537" y="268.40" width="2" height="154.80" fill="#cbcbcb" stroke="none"/><rect x="557" y="268.40" width="3" height="154.80" fill="#f4f4f4" stroke="none"/><rect x="577" y="268.40" width="2" height="154.80" fill="#e7e7e7" stroke="none"/><rect x="598" y="268.40" width="2" height="154.80" fill="#cbcbcb" stroke="none"/><rect x="618" y="268.40" width="3" height="154.80" fill="#f4f4f4" stroke="none"/><rect x="638" y="268.40" width="2" height="154.80" fill="#cbcbcb" stroke="none"/><line x1="70.90" y1="423.20" x2="659.60" y2="423.20" /><line x1="70.90" y1="397.40" x2="659.60" y2="397.40" /><line x1="70.90" y1="371.60" x2="659.60" y2="371.60" /><line x1="70.90" y1="345.80" x2="659.60" y2="345.80" /><line x1="70.90" y1="320.00" x2="659.60" y2="320.00" /><line x1="70.90" y1="294.20" x2="659.60" y2="294.20" /><line x1="70.90" y1="268.40" x2="659.60" y2="268.40" /></g>
<clipPath id="clipNM"><rect x="70.90" y="268.40" width="588.70" height="154.80"/></clipPath>
<g clip-path="url(#clipNM)">
<polyline points="70.90,406.43 91.20,407.46 111.50,405.66 131.80,409.27 152.10,402.04 172.40,403.33 192.70,401.01 213.00,402.30 233.30,406.43 253.60,406.43 273.90,406.69 294.20,403.33 314.50,402.04 334.80,407.20 355.10,407.98 375.40,407.98 395.70,409.27 416.00,409.27 436.30,402.30 456.60,406.69 476.90,411.07 497.20,408.75 517.50,406.43 537.80,406.17 558.10,406.69 578.40,411.33 598.70,407.98 619.00,409.27 639.30,408.49 659.60,410.56" fill="none" stroke="#1f77b4" stroke-width="1.15" stroke-linejoin="round"/>
<g fill="#1f77b4"><circle cx="70.90" cy="406.43" r="2.6"/><circle cx="91.20" cy="407.46" r="2.6"/><circle cx="111.50" cy="405.66" r="2.6"/><circle cx="131.80" cy="409.27" r="2.6"/><circle cx="152.10" cy="402.04" r="2.6"/><circle cx="172.40" cy="403.33" r="2.6"/><circle cx="192.70" cy="401.01" r="2.6"/><circle cx="213.00" cy="402.30" r="2.6"/><circle cx="233.30" cy="406.43" r="2.6"/><circle cx="253.60" cy="406.43" r="2.6"/><circle cx="273.90" cy="406.69" r="2.6"/><circle cx="294.20" cy="403.33" r="2.6"/><circle cx="314.50" cy="402.04" r="2.6"/><circle cx="334.80" cy="407.20" r="2.6"/><circle cx="355.10" cy="407.98" r="2.6"/><circle cx="375.40" cy="407.98" r="2.6"/><circle cx="395.70" cy="409.27" r="2.6"/><circle cx="416.00" cy="409.27" r="2.6"/><circle cx="436.30" cy="402.30" r="2.6"/><circle cx="456.60" cy="406.69" r="2.6"/><circle cx="476.90" cy="411.07" r="2.6"/><circle cx="497.20" cy="408.75" r="2.6"/><circle cx="517.50" cy="406.43" r="2.6"/><circle cx="537.80" cy="406.17" r="2.6"/><circle cx="558.10" cy="406.69" r="2.6"/><circle cx="578.40" cy="411.33" r="2.6"/><circle cx="598.70" cy="407.98" r="2.6"/><circle cx="619.00" cy="409.27" r="2.6"/><circle cx="639.30" cy="408.49" r="2.6"/><circle cx="659.60" cy="410.56" r="2.6"/></g>
<polyline points="70.90,399.98 91.20,405.40 111.50,405.40 131.80,406.43 152.10,406.43 172.40,403.85 192.70,406.17 213.00,403.59 233.30,412.36 253.60,412.11 273.90,413.91 294.20,406.69 314.50,402.56 334.80,410.82 355.10,415.98 375.40,403.59 395.70,405.66 416.00,406.43 436.30,407.46 456.60,403.33 476.90,407.46 497.20,410.30 517.50,410.04 537.80,409.27 558.10,410.04 578.40,419.59 598.70,417.01 619.00,400.75 639.30,404.88 659.60,411.07" fill="none" stroke="#ff7f0e" stroke-width="1.15" stroke-linejoin="round"/>
<g fill="#ff7f0e"><circle cx="70.90" cy="399.98" r="2.6"/><circle cx="91.20" cy="405.40" r="2.6"/><circle cx="111.50" cy="405.40" r="2.6"/><circle cx="131.80" cy="406.43" r="2.6"/><circle cx="152.10" cy="406.43" r="2.6"/><circle cx="172.40" cy="403.85" r="2.6"/><circle cx="192.70" cy="406.17" r="2.6"/><circle cx="213.00" cy="403.59" r="2.6"/><circle cx="233.30" cy="412.36" r="2.6"/><circle cx="253.60" cy="412.11" r="2.6"/><circle cx="273.90" cy="413.91" r="2.6"/><circle cx="294.20" cy="406.69" r="2.6"/><circle cx="314.50" cy="402.56" r="2.6"/><circle cx="334.80" cy="410.82" r="2.6"/><circle cx="355.10" cy="415.98" r="2.6"/><circle cx="375.40" cy="403.59" r="2.6"/><circle cx="395.70" cy="405.66" r="2.6"/><circle cx="416.00" cy="406.43" r="2.6"/><circle cx="436.30" cy="407.46" r="2.6"/><circle cx="456.60" cy="403.33" r="2.6"/><circle cx="476.90" cy="407.46" r="2.6"/><circle cx="497.20" cy="410.30" r="2.6"/><circle cx="517.50" cy="410.04" r="2.6"/><circle cx="537.80" cy="409.27" r="2.6"/><circle cx="558.10" cy="410.04" r="2.6"/><circle cx="578.40" cy="419.59" r="2.6"/><circle cx="598.70" cy="417.01" r="2.6"/><circle cx="619.00" cy="400.75" r="2.6"/><circle cx="639.30" cy="404.88" r="2.6"/><circle cx="659.60" cy="411.07" r="2.6"/></g>
<polyline points="70.90,409.78 91.20,410.56 111.50,411.59 131.80,411.07 152.10,410.04 172.40,409.78 192.70,412.36 213.00,405.91 233.30,411.07 253.60,410.30 273.90,413.65 294.20,405.66 314.50,411.59 334.80,414.94 355.10,417.78 375.40,406.43 395.70,415.98 416.00,411.59 436.30,411.59 456.60,414.94 476.90,421.39 497.20,416.75 517.50,412.62 537.80,416.49 558.10,420.62 578.40,418.04 598.70,423.20 619.00,411.07 639.30,413.14 659.60,416.23" fill="none" stroke="#2ca02c" stroke-width="1.15" stroke-linejoin="round"/>
<g fill="#2ca02c"><circle cx="70.90" cy="409.78" r="2.6"/><circle cx="91.20" cy="410.56" r="2.6"/><circle cx="111.50" cy="411.59" r="2.6"/><circle cx="131.80" cy="411.07" r="2.6"/><circle cx="152.10" cy="410.04" r="2.6"/><circle cx="172.40" cy="409.78" r="2.6"/><circle cx="192.70" cy="412.36" r="2.6"/><circle cx="213.00" cy="405.91" r="2.6"/><circle cx="233.30" cy="411.07" r="2.6"/><circle cx="253.60" cy="410.30" r="2.6"/><circle cx="273.90" cy="413.65" r="2.6"/><circle cx="294.20" cy="405.66" r="2.6"/><circle cx="314.50" cy="411.59" r="2.6"/><circle cx="334.80" cy="414.94" r="2.6"/><circle cx="355.10" cy="417.78" r="2.6"/><circle cx="375.40" cy="406.43" r="2.6"/><circle cx="395.70" cy="415.98" r="2.6"/><circle cx="416.00" cy="411.59" r="2.6"/><circle cx="436.30" cy="411.59" r="2.6"/><circle cx="456.60" cy="414.94" r="2.6"/><circle cx="476.90" cy="421.39" r="2.6"/><circle cx="497.20" cy="416.75" r="2.6"/><circle cx="517.50" cy="412.62" r="2.6"/><circle cx="537.80" cy="416.49" r="2.6"/><circle cx="558.10" cy="420.62" r="2.6"/><circle cx="578.40" cy="418.04" r="2.6"/><circle cx="598.70" cy="423.20" r="2.6"/><circle cx="619.00" cy="411.07" r="2.6"/><circle cx="639.30" cy="413.14" r="2.6"/><circle cx="659.60" cy="416.23" r="2.6"/></g>
<polyline points="70.90,327.22 91.20,324.13 111.50,339.61 131.80,340.12 152.10,334.19 172.40,329.03 192.70,331.09 213.00,334.19 233.30,343.74 253.60,341.41 273.90,337.80 294.20,329.29 314.50,337.03 334.80,337.03 355.10,337.80 375.40,332.13 395.70,328.51 416.00,325.93 436.30,329.29 456.60,328.00 476.90,339.35 497.20,329.29 517.50,326.71 537.80,324.90 558.10,329.29 578.40,333.93 598.70,334.45 619.00,333.42 639.30,332.64 659.60,324.90" fill="none" stroke="#d62728" stroke-width="1.15" stroke-linejoin="round"/>
<g fill="#d62728"><circle cx="70.90" cy="327.22" r="2.6"/><circle cx="91.20" cy="324.13" r="2.6"/><circle cx="111.50" cy="339.61" r="2.6"/><circle cx="131.80" cy="340.12" r="2.6"/><circle cx="152.10" cy="334.19" r="2.6"/><circle cx="172.40" cy="329.03" r="2.6"/><circle cx="192.70" cy="331.09" r="2.6"/><circle cx="213.00" cy="334.19" r="2.6"/><circle cx="233.30" cy="343.74" r="2.6"/><circle cx="253.60" cy="341.41" r="2.6"/><circle cx="273.90" cy="337.80" r="2.6"/><circle cx="294.20" cy="329.29" r="2.6"/><circle cx="314.50" cy="337.03" r="2.6"/><circle cx="334.80" cy="337.03" r="2.6"/><circle cx="355.10" cy="337.80" r="2.6"/><circle cx="375.40" cy="332.13" r="2.6"/><circle cx="395.70" cy="328.51" r="2.6"/><circle cx="416.00" cy="325.93" r="2.6"/><circle cx="436.30" cy="329.29" r="2.6"/><circle cx="456.60" cy="328.00" r="2.6"/><circle cx="476.90" cy="339.35" r="2.6"/><circle cx="497.20" cy="329.29" r="2.6"/><circle cx="517.50" cy="326.71" r="2.6"/><circle cx="537.80" cy="324.90" r="2.6"/><circle cx="558.10" cy="329.29" r="2.6"/><circle cx="578.40" cy="333.93" r="2.6"/><circle cx="598.70" cy="334.45" r="2.6"/><circle cx="619.00" cy="333.42" r="2.6"/><circle cx="639.30" cy="332.64" r="2.6"/><circle cx="659.60" cy="324.90" r="2.6"/></g>
<polyline points="70.90,327.22 91.20,323.61 111.50,338.06 131.80,339.61 152.10,334.71 172.40,331.09 192.70,336.77 213.00,336.25 233.30,342.45 253.60,344.77 273.90,331.61 294.20,326.71 314.50,336.25 334.80,339.61 355.10,338.83 375.40,334.19 395.70,331.61 416.00,331.09 436.30,334.19 456.60,334.19 476.90,345.80 497.20,336.00 517.50,329.80 537.80,327.22 558.10,331.09 578.40,335.48 598.70,340.90 619.00,336.51 639.30,334.19 659.60,328.00" fill="none" stroke="#9467bd" stroke-width="1.15" stroke-linejoin="round"/>
<g fill="#9467bd"><circle cx="70.90" cy="327.22" r="2.6"/><circle cx="91.20" cy="323.61" r="2.6"/><circle cx="111.50" cy="338.06" r="2.6"/><circle cx="131.80" cy="339.61" r="2.6"/><circle cx="152.10" cy="334.71" r="2.6"/><circle cx="172.40" cy="331.09" r="2.6"/><circle cx="192.70" cy="336.77" r="2.6"/><circle cx="213.00" cy="336.25" r="2.6"/><circle cx="233.30" cy="342.45" r="2.6"/><circle cx="253.60" cy="344.77" r="2.6"/><circle cx="273.90" cy="331.61" r="2.6"/><circle cx="294.20" cy="326.71" r="2.6"/><circle cx="314.50" cy="336.25" r="2.6"/><circle cx="334.80" cy="339.61" r="2.6"/><circle cx="355.10" cy="338.83" r="2.6"/><circle cx="375.40" cy="334.19" r="2.6"/><circle cx="395.70" cy="331.61" r="2.6"/><circle cx="416.00" cy="331.09" r="2.6"/><circle cx="436.30" cy="334.19" r="2.6"/><circle cx="456.60" cy="334.19" r="2.6"/><circle cx="476.90" cy="345.80" r="2.6"/><circle cx="497.20" cy="336.00" r="2.6"/><circle cx="517.50" cy="329.80" r="2.6"/><circle cx="537.80" cy="327.22" r="2.6"/><circle cx="558.10" cy="331.09" r="2.6"/><circle cx="578.40" cy="335.48" r="2.6"/><circle cx="598.70" cy="340.90" r="2.6"/><circle cx="619.00" cy="336.51" r="2.6"/><circle cx="639.30" cy="334.19" r="2.6"/><circle cx="659.60" cy="328.00" r="2.6"/></g>
</g>
<line x1="70.90" y1="268.40" x2="70.90" y2="423.20" stroke="#3a3a3a" stroke-width="1.2"/>
<line x1="659.60" y1="268.40" x2="659.60" y2="423.20" stroke="#3a3a3a" stroke-width="1.2"/>
<line x1="70.30" y1="423.20" x2="660.20" y2="423.20" stroke="#3a3a3a" stroke-width="1.3"/>
<g stroke="#3a3a3a" stroke-width="1.1"><line x1="70.90" y1="423.20" x2="70.90" y2="425.40" /><rect x="90" y="423.20" width="3" height="2.20" fill="#dedede" stroke="none"/><rect x="111" y="423.20" width="2" height="2.20" fill="#505050" stroke="none"/><rect x="130" y="423.20" width="3" height="2.20" fill="#dedede" stroke="none"/><rect x="151" y="423.20" width="2" height="2.20" fill="#a0a0a0" stroke="none"/><rect x="171" y="423.20" width="3" height="2.20" fill="#dedede" stroke="none"/><rect x="192" y="423.20" width="2" height="2.20" fill="#a0a0a0" stroke="none"/><rect x="212" y="423.20" width="2" height="2.20" fill="#505050" stroke="none"/><rect x="232" y="423.20" width="3" height="2.20" fill="#dedede" stroke="none"/><rect x="253" y="423.20" width="2" height="2.20" fill="#505050" stroke="none"/><rect x="273" y="423.20" width="2" height="2.20" fill="#a0a0a0" stroke="none"/><rect x="293" y="423.20" width="2" height="2.20" fill="#505050" stroke="none"/><rect x="313" y="423.20" width="3" height="2.20" fill="#dedede" stroke="none"/><rect x="334" y="423.20" width="2" height="2.20" fill="#a0a0a0" stroke="none"/><rect x="354" y="423.20" width="2" height="2.20" fill="#505050" stroke="none"/><rect x="374" y="423.20" width="3" height="2.20" fill="#dedede" stroke="none"/><rect x="395" y="423.20" width="2" height="2.20" fill="#505050" stroke="none"/><rect x="415" y="423.20" width="3" height="2.20" fill="#dedede" stroke="none"/><rect x="435" y="423.20" width="2" height="2.20" fill="#a0a0a0" stroke="none"/><rect x="456" y="423.20" width="2" height="2.20" fill="#505050" stroke="none"/><rect x="476" y="423.20" width="2" height="2.20" fill="#a0a0a0" stroke="none"/><rect x="496" y="423.20" width="2" height="2.20" fill="#505050" stroke="none"/><rect x="516" y="423.20" width="3" height="2.20" fill="#dedede" stroke="none"/><rect x="537" y="423.20" width="2" height="2.20" fill="#505050" stroke="none"/><rect x="557" y="423.20" width="3" height="2.20" fill="#dedede" stroke="none"/><rect x="577" y="423.20" width="2" height="2.20" fill="#a0a0a0" stroke="none"/><rect x="598" y="423.20" width="2" height="2.20" fill="#505050" stroke="none"/><rect x="618" y="423.20" width="3" height="2.20" fill="#dedede" stroke="none"/><rect x="638" y="423.20" width="2" height="2.20" fill="#505050" stroke="none"/><line x1="659.60" y1="423.20" x2="659.60" y2="425.40" /><line x1="68.40" y1="423.20" x2="70.90" y2="423.20" /><line x1="68.40" y1="397.40" x2="70.90" y2="397.40" /><line x1="68.40" y1="371.60" x2="70.90" y2="371.60" /><line x1="68.40" y1="345.80" x2="70.90" y2="345.80" /><line x1="68.40" y1="320.00" x2="70.90" y2="320.00" /><line x1="68.40" y1="294.20" x2="70.90" y2="294.20" /><line x1="68.40" y1="268.40" x2="70.90" y2="268.40" /></g>
<g font-family="'Liberation Sans', sans-serif" font-size="26.8" fill="#000" stroke="#000" stroke-width="0.25"><text x="51.40" y="430.83">0</text><path d="M54.16,391.89 L59.17,387.74 L59.17,405.03" fill="none" stroke-width="2.36" stroke-linejoin="round"/><text x="51.40" y="379.23">2</text><text x="51.48" y="353.43">3</text><text x="51.48" y="327.63">4</text><text x="51.42" y="301.83">5</text><text x="51.31" y="276.03">6</text></g>
<g transform="translate(44.30,345.80) rotate(-90)" font-family="'Liberation Sans', sans-serif" font-size="26.8" fill="#000" stroke="#000" stroke-width="0.25"><text transform="scale(0.7847,1.0000)" x="-91.62" y="0.00" stroke-width="0.65">B</text><text x="-53.95" y="0.00">I</text><text transform="scale(0.7106,1.0000)" x="-59.42" y="0.00" stroke-width="0.65">A</text><text transform="scale(0.7813,1.0000)" x="-36.48" y="0.00" stroke-width="0.65">S</text><line x1="1.14" y1="1.07" x2="13.20" y2="-20.23" stroke-width="1.61" stroke-linecap="round"/><text transform="scale(0.7765,1.0000)" x="19.54" y="0.00" stroke-width="0.65">T</text><text transform="scale(0.7311,1.0000)" x="39.61" y="0.00" stroke-width="0.65">E</text><text transform="scale(0.7440,1.0000)" x="57.66" y="0.00" stroke-width="0.65">C</text><text transform="scale(0.8298,1.0000)" x="68.15" y="0.00" stroke-width="0.65">U</text></g>
<g font-family="'Liberation Sans', sans-serif" font-size="26.8" fill="#000" stroke="#000" stroke-width="0.25"><text transform="scale(0.7860,1.0000)" x="290.69" y="263.20" stroke-width="0.65">N</text><text transform="scale(0.6804,1.0000)" x="356.95" y="263.20" stroke-width="0.65">M</text><text transform="scale(0.9200,0.9300)" x="298.21" y="280.17" stroke-width="0">(</text><text x="286.13" y="263.20">3</text><text x="300.40" y="263.20">0</text><circle cx="322.20" cy="247.44" r="3.00" fill="none" stroke-width="1.26"/><text transform="scale(0.7860,1.0000)" x="436.74" y="263.20" stroke-width="0.65">N</text><rect x="372.86" y="252.40" width="13.49" height="2.04" stroke="none"/><text x="400.76" y="263.20">6</text><text x="415.20" y="263.20">0</text><circle cx="437.00" cy="247.44" r="3.00" fill="none" stroke-width="1.26"/><text transform="scale(0.7860,1.0000)" x="582.79" y="263.20" stroke-width="0.65">N</text><text transform="scale(0.9200,0.9300)" x="518.08" y="280.17" stroke-width="0">)</text></g>
<g stroke="#dcdcdc" stroke-width="1" fill="none"><rect x="744" y="268.40" width="2" height="154.80" fill="#cbcbcb" stroke="none"/><rect x="765" y="268.40" width="2" height="154.80" fill="#e7e7e7" stroke="none"/><rect x="785" y="268.40" width="2" height="154.80" fill="#cbcbcb" stroke="none"/><rect x="805" y="268.40" width="3" height="154.80" fill="#f4f4f4" stroke="none"/><rect x="826" y="268.40" width="2" height="154.80" fill="#cbcbcb" stroke="none"/><rect x="845" y="268.40" width="3" height="154.80" fill="#f4f4f4" stroke="none"/><rect x="866" y="268.40" width="2" height="154.80" fill="#e7e7e7" stroke="none"/><rect x="886" y="268.40" width="3" height="154.80" fill="#f4f4f4" stroke="none"/><rect x="906" y="268.40" width="3" height="154.80" fill="#f4f4f4" stroke="none"/><rect x="927" y="268.40" width="2" height="154.80" fill="#cbcbcb" stroke="none"/><rect x="947" y="268.40" width="3" height="154.80" fill="#f4f4f4" stroke="none"/><rect x="968" y="268.40" width="2" height="154.80" fill="#cbcbcb" stroke="none"/><rect x="988" y="268.40" width="2" height="154.80" fill="#e7e7e7" stroke="none"/><rect x="1008" y="268.40" width="2" height="154.80" fill="#cbcbcb" stroke="none"/><rect x="1029" y="268.40" width="2" height="154.80" fill="#e7e7e7" stroke="none"/><rect x="1049" y="268.40" width="3" height="154.80" fill="#f4f4f4" stroke="none"/><rect x="1069" y="268.40" width="2" height="154.80" fill="#e7e7e7" stroke="none"/><rect x="1089" y="268.40" width="3" height="154.80" fill="#f4f4f4" stroke="none"/><rect x="1110" y="268.40" width="2" height="154.80" fill="#e7e7e7" stroke="none"/><rect x="1130" y="268.40" width="2" height="154.80" fill="#cbcbcb" stroke="none"/><rect x="1151" y="268.40" width="2" height="154.80" fill="#e7e7e7" stroke="none"/><rect x="1171" y="268.40" width="2" height="154.80" fill="#cbcbcb" stroke="none"/><rect x="1191" y="268.40" width="3" height="154.80" fill="#f4f4f4" stroke="none"/><rect x="1212" y="268.40" width="2" height="154.80" fill="#cbcbcb" stroke="none"/><rect x="1231" y="268.40" width="3" height="154.80" fill="#f4f4f4" stroke="none"/><rect x="1252" y="268.40" width="3" height="154.80" fill="#f4f4f4" stroke="none"/><rect x="1272" y="268.40" width="3" height="154.80" fill="#f4f4f4" stroke="none"/><rect x="1292" y="268.40" width="3" height="154.80" fill="#f4f4f4" stroke="none"/><line x1="725.00" y1="423.20" x2="1314.10" y2="423.20" /><line x1="725.00" y1="397.40" x2="1314.10" y2="397.40" /><line x1="725.00" y1="371.60" x2="1314.10" y2="371.60" /><line x1="725.00" y1="345.80" x2="1314.10" y2="345.80" /><line x1="725.00" y1="320.00" x2="1314.10" y2="320.00" /><line x1="725.00" y1="294.20" x2="1314.10" y2="294.20" /><line x1="725.00" y1="268.40" x2="1314.10" y2="268.40" /></g>
<clipPath id="clipSM"><rect x="725.00" y="268.40" width="589.10" height="154.80"/></clipPath>
<g clip-path="url(#clipSM)">
<polyline points="725.00,390.95 745.31,389.40 765.63,385.53 785.94,388.89 806.26,392.50 826.57,390.69 846.88,388.37 867.20,389.92 887.51,391.21 907.82,391.21 928.14,391.47 948.45,389.14 968.77,387.60 989.08,387.60 1009.39,387.08 1029.71,390.95 1050.02,389.92 1070.33,389.14 1090.65,387.85 1110.96,390.95 1131.28,390.18 1151.59,389.40 1171.90,389.40 1192.22,384.76 1212.53,385.02 1232.84,388.11 1253.16,383.98 1273.47,388.11 1293.79,391.98 1314.10,387.60" fill="none" stroke="#1f77b4" stroke-width="1.15" stroke-linejoin="round"/>
<g fill="#1f77b4"><circle cx="725.00" cy="390.95" r="2.6"/><circle cx="745.31" cy="389.40" r="2.6"/><circle cx="765.63" cy="385.53" r="2.6"/><circle cx="785.94" cy="388.89" r="2.6"/><circle cx="806.26" cy="392.50" r="2.6"/><circle cx="826.57" cy="390.69" r="2.6"/><circle cx="846.88" cy="388.37" r="2.6"/><circle cx="867.20" cy="389.92" r="2.6"/><circle cx="887.51" cy="391.21" r="2.6"/><circle cx="907.82" cy="391.21" r="2.6"/><circle cx="928.14" cy="391.47" r="2.6"/><circle cx="948.45" cy="389.14" r="2.6"/><circle cx="968.77" cy="387.60" r="2.6"/><circle cx="989.08" cy="387.60" r="2.6"/><circle cx="1009.39" cy="387.08" r="2.6"/><circle cx="1029.71" cy="390.95" r="2.6"/><circle cx="1050.02" cy="389.92" r="2.6"/><circle cx="1070.33" cy="389.14" r="2.6"/><circle cx="1090.65" cy="387.85" r="2.6"/><circle cx="1110.96" cy="390.95" r="2.6"/><circle cx="1131.28" cy="390.18" r="2.6"/><circle cx="1151.59" cy="389.40" r="2.6"/><circle cx="1171.90" cy="389.40" r="2.6"/><circle cx="1192.22" cy="384.76" r="2.6"/><circle cx="1212.53" cy="385.02" r="2.6"/><circle cx="1232.84" cy="388.11" r="2.6"/><circle cx="1253.16" cy="383.98" r="2.6"/><circle cx="1273.47" cy="388.11" r="2.6"/><circle cx="1293.79" cy="391.98" r="2.6"/><circle cx="1314.10" cy="387.60" r="2.6"/></g>
<polyline points="725.00,402.82 745.31,396.11 765.63,395.34 785.94,404.88 806.26,404.62 826.57,403.59 846.88,400.50 867.20,407.46 887.51,400.75 907.82,402.30 928.14,400.75 948.45,398.95 968.77,397.40 989.08,396.37 1009.39,396.37 1029.71,399.46 1050.02,400.75 1070.33,397.40 1090.65,395.59 1110.96,405.40 1131.28,403.59 1151.59,401.01 1171.90,401.01 1192.22,395.59 1212.53,395.59 1232.84,392.76 1253.16,393.79 1273.47,413.91 1293.79,406.17 1314.10,399.21" fill="none" stroke="#ff7f0e" stroke-width="1.15" stroke-linejoin="round"/>
<g fill="#ff7f0e"><circle cx="725.00" cy="402.82" r="2.6"/><circle cx="745.31" cy="396.11" r="2.6"/><circle cx="765.63" cy="395.34" r="2.6"/><circle cx="785.94" cy="404.88" r="2.6"/><circle cx="806.26" cy="404.62" r="2.6"/><circle cx="826.57" cy="403.59" r="2.6"/><circle cx="846.88" cy="400.50" r="2.6"/><circle cx="867.20" cy="407.46" r="2.6"/><circle cx="887.51" cy="400.75" r="2.6"/><circle cx="907.82" cy="402.30" r="2.6"/><circle cx="928.14" cy="400.75" r="2.6"/><circle cx="948.45" cy="398.95" r="2.6"/><circle cx="968.77" cy="397.40" r="2.6"/><circle cx="989.08" cy="396.37" r="2.6"/><circle cx="1009.39" cy="396.37" r="2.6"/><circle cx="1029.71" cy="399.46" r="2.6"/><circle cx="1050.02" cy="400.75" r="2.6"/><circle cx="1070.33" cy="397.40" r="2.6"/><circle cx="1090.65" cy="395.59" r="2.6"/><circle cx="1110.96" cy="405.40" r="2.6"/><circle cx="1131.28" cy="403.59" r="2.6"/><circle cx="1151.59" cy="401.01" r="2.6"/><circle cx="1171.90" cy="401.01" r="2.6"/><circle cx="1192.22" cy="395.59" r="2.6"/><circle cx="1212.53" cy="395.59" r="2.6"/><circle cx="1232.84" cy="392.76" r="2.6"/><circle cx="1253.16" cy="393.79" r="2.6"/><circle cx="1273.47" cy="413.91" r="2.6"/><circle cx="1293.79" cy="406.17" r="2.6"/><circle cx="1314.10" cy="399.21" r="2.6"/></g>
<polyline points="725.00,380.37 745.31,381.15 765.63,379.08 785.94,382.44 806.26,382.18 826.57,384.24 846.88,379.34 867.20,386.05 887.51,380.89 907.82,382.69 928.14,381.15 948.45,377.53 968.77,378.57 989.08,373.15 1009.39,382.18 1029.71,379.34 1050.02,382.95 1070.33,382.18 1090.65,375.99 1110.96,383.21 1131.28,381.40 1151.59,379.86 1171.90,376.76 1192.22,372.63 1212.53,375.73 1232.84,377.79 1253.16,374.18 1273.47,385.53 1293.79,380.11 1314.10,378.05" fill="none" stroke="#2ca02c" stroke-width="1.15" stroke-linejoin="round"/>
<g fill="#2ca02c"><circle cx="725.00" cy="380.37" r="2.6"/><circle cx="745.31" cy="381.15" r="2.6"/><circle cx="765.63" cy="379.08" r="2.6"/><circle cx="785.94" cy="382.44" r="2.6"/><circle cx="806.26" cy="382.18" r="2.6"/><circle cx="826.57" cy="384.24" r="2.6"/><circle cx="846.88" cy="379.34" r="2.6"/><circle cx="867.20" cy="386.05" r="2.6"/><circle cx="887.51" cy="380.89" r="2.6"/><circle cx="907.82" cy="382.69" r="2.6"/><circle cx="928.14" cy="381.15" r="2.6"/><circle cx="948.45" cy="377.53" r="2.6"/><circle cx="968.77" cy="378.57" r="2.6"/><circle cx="989.08" cy="373.15" r="2.6"/><circle cx="1009.39" cy="382.18" r="2.6"/><circle cx="1029.71" cy="379.34" r="2.6"/><circle cx="1050.02" cy="382.95" r="2.6"/><circle cx="1070.33" cy="382.18" r="2.6"/><circle cx="1090.65" cy="375.99" r="2.6"/><circle cx="1110.96" cy="383.21" r="2.6"/><circle cx="1131.28" cy="381.40" r="2.6"/><circle cx="1151.59" cy="379.86" r="2.6"/><circle cx="1171.90" cy="376.76" r="2.6"/><circle cx="1192.22" cy="372.63" r="2.6"/><circle cx="1212.53" cy="375.73" r="2.6"/><circle cx="1232.84" cy="377.79" r="2.6"/><circle cx="1253.16" cy="374.18" r="2.6"/><circle cx="1273.47" cy="385.53" r="2.6"/><circle cx="1293.79" cy="380.11" r="2.6"/><circle cx="1314.10" cy="378.05" r="2.6"/></g>
<polyline points="725.00,346.32 745.31,350.19 765.63,350.19 785.94,354.57 806.26,351.73 826.57,361.02 846.88,351.73 867.20,354.31 887.51,350.70 907.82,357.41 928.14,357.15 948.45,343.99 968.77,344.77 989.08,342.19 1009.39,339.87 1029.71,343.99 1050.02,346.83 1070.33,344.77 1090.65,340.64 1110.96,348.64 1131.28,344.25 1151.59,342.45 1171.90,339.61 1192.22,337.80 1212.53,331.61 1232.84,333.42 1253.16,325.42 1273.47,348.12 1293.79,337.03 1314.10,331.61" fill="none" stroke="#d62728" stroke-width="1.15" stroke-linejoin="round"/>
<g fill="#d62728"><circle cx="725.00" cy="346.32" r="2.6"/><circle cx="745.31" cy="350.19" r="2.6"/><circle cx="765.63" cy="350.19" r="2.6"/><circle cx="785.94" cy="354.57" r="2.6"/><circle cx="806.26" cy="351.73" r="2.6"/><circle cx="826.57" cy="361.02" r="2.6"/><circle cx="846.88" cy="351.73" r="2.6"/><circle cx="867.20" cy="354.31" r="2.6"/><circle cx="887.51" cy="350.70" r="2.6"/><circle cx="907.82" cy="357.41" r="2.6"/><circle cx="928.14" cy="357.15" r="2.6"/><circle cx="948.45" cy="343.99" r="2.6"/><circle cx="968.77" cy="344.77" r="2.6"/><circle cx="989.08" cy="342.19" r="2.6"/><circle cx="1009.39" cy="339.87" r="2.6"/><circle cx="1029.71" cy="343.99" r="2.6"/><circle cx="1050.02" cy="346.83" r="2.6"/><circle cx="1070.33" cy="344.77" r="2.6"/><circle cx="1090.65" cy="340.64" r="2.6"/><circle cx="1110.96" cy="348.64" r="2.6"/><circle cx="1131.28" cy="344.25" r="2.6"/><circle cx="1151.59" cy="342.45" r="2.6"/><circle cx="1171.90" cy="339.61" r="2.6"/><circle cx="1192.22" cy="337.80" r="2.6"/><circle cx="1212.53" cy="331.61" r="2.6"/><circle cx="1232.84" cy="333.42" r="2.6"/><circle cx="1253.16" cy="325.42" r="2.6"/><circle cx="1273.47" cy="348.12" r="2.6"/><circle cx="1293.79" cy="337.03" r="2.6"/><circle cx="1314.10" cy="331.61" r="2.6"/></g>
<polyline points="725.00,338.32 745.31,341.41 765.63,343.22 785.94,348.64 806.26,346.32 826.57,351.73 846.88,343.48 867.20,345.54 887.51,339.61 907.82,348.38 928.14,349.41 948.45,338.32 968.77,337.29 989.08,331.61 1009.39,329.29 1029.71,333.42 1050.02,335.74 1070.33,336.25 1090.65,333.42 1110.96,337.80 1131.28,333.42 1151.59,330.84 1171.90,329.03 1192.22,325.16 1212.53,321.03 1232.84,321.81 1253.16,315.10 1273.47,332.64 1293.79,321.81 1314.10,316.90" fill="none" stroke="#9467bd" stroke-width="1.15" stroke-linejoin="round"/>
<g fill="#9467bd"><circle cx="725.00" cy="338.32" r="2.6"/><circle cx="745.31" cy="341.41" r="2.6"/><circle cx="765.63" cy="343.22" r="2.6"/><circle cx="785.94" cy="348.64" r="2.6"/><circle cx="806.26" cy="346.32" r="2.6"/><circle cx="826.57" cy="351.73" r="2.6"/><circle cx="846.88" cy="343.48" r="2.6"/><circle cx="867.20" cy="345.54" r="2.6"/><circle cx="887.51" cy="339.61" r="2.6"/><circle cx="907.82" cy="348.38" r="2.6"/><circle cx="928.14" cy="349.41" r="2.6"/><circle cx="948.45" cy="338.32" r="2.6"/><circle cx="968.77" cy="337.29" r="2.6"/><circle cx="989.08" cy="331.61" r="2.6"/><circle cx="1009.39" cy="329.29" r="2.6"/><circle cx="1029.71" cy="333.42" r="2.6"/><circle cx="1050.02" cy="335.74" r="2.6"/><circle cx="1070.33" cy="336.25" r="2.6"/><circle cx="1090.65" cy="333.42" r="2.6"/><circle cx="1110.96" cy="337.80" r="2.6"/><circle cx="1131.28" cy="333.42" r="2.6"/><circle cx="1151.59" cy="330.84" r="2.6"/><circle cx="1171.90" cy="329.03" r="2.6"/><circle cx="1192.22" cy="325.16" r="2.6"/><circle cx="1212.53" cy="321.03" r="2.6"/><circle cx="1232.84" cy="321.81" r="2.6"/><circle cx="1253.16" cy="315.10" r="2.6"/><circle cx="1273.47" cy="332.64" r="2.6"/><circle cx="1293.79" cy="321.81" r="2.6"/><circle cx="1314.10" cy="316.90" r="2.6"/></g>
</g>
<line x1="725.00" y1="268.40" x2="725.00" y2="423.20" stroke="#3a3a3a" stroke-width="1.2"/>
<line x1="1314.10" y1="268.40" x2="1314.10" y2="423.20" stroke="#3a3a3a" stroke-width="1.2"/>
<line x1="724.40" y1="423.20" x2="1314.70" y2="423.20" stroke="#3a3a3a" stroke-width="1.3"/>
<g stroke="#3a3a3a" stroke-width="1.1"><line x1="725.00" y1="423.20" x2="725.00" y2="425.40" /><rect x="744" y="423.20" width="2" height="2.20" fill="#505050" stroke="none"/><rect x="765" y="423.20" width="2" height="2.20" fill="#a0a0a0" stroke="none"/><rect x="785" y="423.20" width="2" height="2.20" fill="#505050" stroke="none"/><rect x="805" y="423.20" width="3" height="2.20" fill="#dedede" stroke="none"/><rect x="826" y="423.20" width="2" height="2.20" fill="#505050" stroke="none"/><rect x="845" y="423.20" width="3" height="2.20" fill="#dedede" stroke="none"/><rect x="866" y="423.20" width="2" height="2.20" fill="#a0a0a0" stroke="none"/><rect x="886" y="423.20" width="3" height="2.20" fill="#dedede" stroke="none"/><rect x="906" y="423.20" width="3" height="2.20" fill="#dedede" stroke="none"/><rect x="927" y="423.20" width="2" height="2.20" fill="#505050" stroke="none"/><rect x="947" y="423.20" width="3" height="2.20" fill="#dedede" stroke="none"/><rect x="968" y="423.20" width="2" height="2.20" fill="#505050" stroke="none"/><rect x="988" y="423.20" width="2" height="2.20" fill="#a0a0a0" stroke="none"/><rect x="1008" y="423.20" width="2" height="2.20" fill="#505050" stroke="none"/><rect x="1029" y="423.20" width="2" height="2.20" fill="#a0a0a0" stroke="none"/><rect x="1049" y="423.20" width="3" height="2.20" fill="#dedede" stroke="none"/><rect x="1069" y="423.20" width="2" height="2.20" fill="#a0a0a0" stroke="none"/><rect x="1089" y="423.20" width="3" height="2.20" fill="#dedede" stroke="none"/><rect x="1110" y="423.20" width="2" height="2.20" fill="#a0a0a0" stroke="none"/><rect x="1130" y="423.20" width="2" height="2.20" fill="#505050" stroke="none"/><rect x="1151" y="423.20" width="2" height="2.20" fill="#a0a0a0" stroke="none"/><rect x="1171" y="423.20" width="2" height="2.20" fill="#505050" stroke="none"/><rect x="1191" y="423.20" width="3" height="2.20" fill="#dedede" stroke="none"/><rect x="1212" y="423.20" width="2" height="2.20" fill="#505050" stroke="none"/><rect x="1231" y="423.20" width="3" height="2.20" fill="#dedede" stroke="none"/><rect x="1252" y="423.20" width="3" height="2.20" fill="#dedede" stroke="none"/><rect x="1272" y="423.20" width="3" height="2.20" fill="#dedede" stroke="none"/><rect x="1292" y="423.20" width="3" height="2.20" fill="#dedede" stroke="none"/><line x1="1314.10" y1="423.20" x2="1314.10" y2="425.40" /><line x1="722.50" y1="423.20" x2="725.00" y2="423.20" /><line x1="722.50" y1="397.40" x2="725.00" y2="397.40" /><line x1="722.50" y1="371.60" x2="725.00" y2="371.60" /><line x1="722.50" y1="345.80" x2="725.00" y2="345.80" /><line x1="722.50" y1="320.00" x2="725.00" y2="320.00" /><line x1="722.50" y1="294.20" x2="725.00" y2="294.20" /><line x1="722.50" y1="268.40" x2="725.00" y2="268.40" /></g>
<g font-family="'Liberation Sans', sans-serif" font-size="26.8" fill="#000" stroke="#000" stroke-width="0.25"><text x="705.50" y="430.83">0</text><path d="M708.26,391.89 L713.27,387.74 L713.27,405.03" fill="none" stroke-width="2.36" stroke-linejoin="round"/><text x="705.50" y="379.23">2</text><text x="705.58" y="353.43">3</text><text x="705.58" y="327.63">4</text><text x="705.52" y="301.83">5</text><text x="705.41" y="276.03">6</text></g>
<g transform="translate(698.40,345.80) rotate(-90)" font-family="'Liberation Sans', sans-serif" font-size="26.8" fill="#000" stroke="#000" stroke-width="0.25"><text transform="scale(0.7847,1.0000)" x="-91.62" y="0.00" stroke-width="0.65">B</text><text x="-53.95" y="0.00">I</text><text transform="scale(0.7106,1.0000)" x="-59.42" y="0.00" stroke-width="0.65">A</text><text transform="scale(0.7813,1.0000)" x="-36.48" y="0.00" stroke-width="0.65">S</text><line x1="1.14" y1="1.07" x2="13.20" y2="-20.23" stroke-width="1.61" stroke-linecap="round"/><text transform="scale(0.7765,1.0000)" x="19.54" y="0.00" stroke-width="0.65">T</text><text transform="scale(0.7311,1.0000)" x="39.61" y="0.00" stroke-width="0.65">E</text><text transform="scale(0.7440,1.0000)" x="57.66" y="0.00" stroke-width="0.65">C</text><text transform="scale(0.8298,1.0000)" x="68.15" y="0.00" stroke-width="0.65">U</text></g>
<g font-family="'Liberation Sans', sans-serif" font-size="26.8" fill="#000" stroke="#000" stroke-width="0.25"><text transform="scale(0.7813,1.0000)" x="1130.72" y="263.20" stroke-width="0.65">S</text><text transform="scale(0.6804,1.0000)" x="1318.63" y="263.20" stroke-width="0.65">M</text><text transform="scale(0.9200,0.9300)" x="1009.40" y="280.17" stroke-width="0">(</text><text x="940.43" y="263.20">3</text><text x="954.70" y="263.20">0</text><circle cx="976.50" cy="247.44" r="3.00" fill="none" stroke-width="1.26"/><text transform="scale(0.7813,1.0000)" x="1277.66" y="263.20" stroke-width="0.65">S</text><rect x="1027.16" y="252.40" width="13.49" height="2.04" stroke="none"/><text x="1055.06" y="263.20">6</text><text x="1069.50" y="263.20">0</text><circle cx="1091.30" cy="247.44" r="3.00" fill="none" stroke-width="1.26"/><text transform="scale(0.7813,1.0000)" x="1424.59" y="263.20" stroke-width="0.65">S</text><text transform="scale(0.9200,0.9300)" x="1229.28" y="280.17" stroke-width="0">)</text></g>
<g stroke="#dcdcdc" stroke-width="1" fill="none"><rect x="90" y="454.00" width="3" height="153.80" fill="#f4f4f4" stroke="none"/><rect x="111" y="454.00" width="2" height="153.80" fill="#cbcbcb" stroke="none"/><rect x="130" y="454.00" width="3" height="153.80" fill="#f4f4f4" stroke="none"/><rect x="151" y="454.00" width="2" height="153.80" fill="#e7e7e7" stroke="none"/><rect x="171" y="454.00" width="3" height="153.80" fill="#f4f4f4" stroke="none"/><rect x="192" y="454.00" width="2" height="153.80" fill="#e7e7e7" stroke="none"/><rect x="212" y="454.00" width="2" height="153.80" fill="#cbcbcb" stroke="none"/><rect x="232" y="454.00" width="3" height="153.80" fill="#f4f4f4" stroke="none"/><rect x="253" y="454.00" width="2" height="153.80" fill="#cbcbcb" stroke="none"/><rect x="273" y="454.00" width="2" height="153.80" fill="#e7e7e7" stroke="none"/><rect x="293" y="454.00" width="2" height="153.80" fill="#cbcbcb" stroke="none"/><rect x="313" y="454.00" width="3" height="153.80" fill="#f4f4f4" stroke="none"/><rect x="334" y="454.00" width="2" height="153.80" fill="#e7e7e7" stroke="none"/><rect x="354" y="454.00" width="2" height="153.80" fill="#cbcbcb" stroke="none"/><rect x="374" y="454.00" width="3" height="153.80" fill="#f4f4f4" stroke="none"/><rect x="395" y="454.00" width="2" height="153.80" fill="#cbcbcb" stroke="none"/><rect x="415" y="454.00" width="3" height="153.80" fill="#f4f4f4" stroke="none"/><rect x="435" y="454.00" width="2" height="153.80" fill="#e7e7e7" stroke="none"/><rect x="456" y="454.00" width="2" height="153.80" fill="#cbcbcb" stroke="none"/><rect x="476" y="454.00" width="2" height="153.80" fill="#e7e7e7" stroke="none"/><rect x="496" y="454.00" width="2" height="153.80" fill="#cbcbcb" stroke="none"/><rect x="516" y="454.00" width="3" height="153.80" fill="#f4f4f4" stroke="none"/><rect x="537" y="454.00" width="2" height="153.80" fill="#cbcbcb" stroke="none"/><rect x="557" y="454.00" width="3" height="153.80" fill="#f4f4f4" stroke="none"/><rect x="577" y="454.00" width="2" height="153.80" fill="#e7e7e7" stroke="none"/><rect x="598" y="454.00" width="2" height="153.80" fill="#cbcbcb" stroke="none"/><rect x="618" y="454.00" width="3" height="153.80" fill="#f4f4f4" stroke="none"/><rect x="638" y="454.00" width="2" height="153.80" fill="#cbcbcb" stroke="none"/><line x1="70.90" y1="588.00" x2="659.60" y2="588.00" /><line x1="70.90" y1="565.67" x2="659.60" y2="565.67" /><line x1="70.90" y1="543.33" x2="659.60" y2="543.33" /><line x1="70.90" y1="521.00" x2="659.60" y2="521.00" /><line x1="70.90" y1="498.67" x2="659.60" y2="498.67" /><line x1="70.90" y1="476.33" x2="659.60" y2="476.33" /><line x1="70.90" y1="454.00" x2="659.60" y2="454.00" /></g>
<line x1="70.90" y1="607.80" x2="659.60" y2="607.80" stroke="#cfcfcf" stroke-width="1.2"/>
<clipPath id="clipNL"><rect x="70.90" y="454.00" width="588.70" height="153.80"/></clipPath>
<g clip-path="url(#clipNL)">
<polyline points="70.90,573.26 91.20,570.80 111.50,569.02 131.80,572.59 152.10,572.81 172.40,574.82 192.70,573.26 213.00,572.59 233.30,577.06 253.60,577.73 273.90,577.95 294.20,576.39 314.50,580.18 334.80,575.72 355.10,572.14 375.40,565.67 395.70,572.59 416.00,581.97 436.30,575.72 456.60,575.72 476.90,580.85 497.20,583.31 517.50,579.29 537.80,575.27 558.10,572.14 578.40,579.07 598.70,577.73 619.00,576.61 639.30,575.05 659.60,583.09" fill="none" stroke="#1f77b4" stroke-width="1.15" stroke-linejoin="round"/>
<g fill="#1f77b4"><circle cx="70.90" cy="573.26" r="2.6"/><circle cx="91.20" cy="570.80" r="2.6"/><circle cx="111.50" cy="569.02" r="2.6"/><circle cx="131.80" cy="572.59" r="2.6"/><circle cx="152.10" cy="572.81" r="2.6"/><circle cx="172.40" cy="574.82" r="2.6"/><circle cx="192.70" cy="573.26" r="2.6"/><circle cx="213.00" cy="572.59" r="2.6"/><circle cx="233.30" cy="577.06" r="2.6"/><circle cx="253.60" cy="577.73" r="2.6"/><circle cx="273.90" cy="577.95" r="2.6"/><circle cx="294.20" cy="576.39" r="2.6"/><circle cx="314.50" cy="580.18" r="2.6"/><circle cx="334.80" cy="575.72" r="2.6"/><circle cx="355.10" cy="572.14" r="2.6"/><circle cx="375.40" cy="565.67" r="2.6"/><circle cx="395.70" cy="572.59" r="2.6"/><circle cx="416.00" cy="581.97" r="2.6"/><circle cx="436.30" cy="575.72" r="2.6"/><circle cx="456.60" cy="575.72" r="2.6"/><circle cx="476.90" cy="580.85" r="2.6"/><circle cx="497.20" cy="583.31" r="2.6"/><circle cx="517.50" cy="579.29" r="2.6"/><circle cx="537.80" cy="575.27" r="2.6"/><circle cx="558.10" cy="572.14" r="2.6"/><circle cx="578.40" cy="579.07" r="2.6"/><circle cx="598.70" cy="577.73" r="2.6"/><circle cx="619.00" cy="576.61" r="2.6"/><circle cx="639.30" cy="575.05" r="2.6"/><circle cx="659.60" cy="583.09" r="2.6"/></g>
<polyline points="70.90,577.06 91.20,578.62 111.50,572.81 131.80,594.92 152.10,582.42 172.40,586.21 192.70,575.94 213.00,583.31 233.30,582.42 253.60,589.79 273.90,588.67 294.20,588.22 314.50,585.99 334.80,585.99 355.10,583.31 375.40,571.47 395.70,580.18 416.00,590.23 436.30,581.08 456.60,579.07 476.90,571.25 497.20,590.01 517.50,586.88 537.80,587.55 558.10,579.51 578.40,585.77 598.70,577.50 619.00,585.99 639.30,567.90 659.60,584.43" fill="none" stroke="#ff7f0e" stroke-width="1.15" stroke-linejoin="round"/>
<g fill="#ff7f0e"><circle cx="70.90" cy="577.06" r="2.6"/><circle cx="91.20" cy="578.62" r="2.6"/><circle cx="111.50" cy="572.81" r="2.6"/><circle cx="131.80" cy="594.92" r="2.6"/><circle cx="152.10" cy="582.42" r="2.6"/><circle cx="172.40" cy="586.21" r="2.6"/><circle cx="192.70" cy="575.94" r="2.6"/><circle cx="213.00" cy="583.31" r="2.6"/><circle cx="233.30" cy="582.42" r="2.6"/><circle cx="253.60" cy="589.79" r="2.6"/><circle cx="273.90" cy="588.67" r="2.6"/><circle cx="294.20" cy="588.22" r="2.6"/><circle cx="314.50" cy="585.99" r="2.6"/><circle cx="334.80" cy="585.99" r="2.6"/><circle cx="355.10" cy="583.31" r="2.6"/><circle cx="375.40" cy="571.47" r="2.6"/><circle cx="395.70" cy="580.18" r="2.6"/><circle cx="416.00" cy="590.23" r="2.6"/><circle cx="436.30" cy="581.08" r="2.6"/><circle cx="456.60" cy="579.07" r="2.6"/><circle cx="476.90" cy="571.25" r="2.6"/><circle cx="497.20" cy="590.01" r="2.6"/><circle cx="517.50" cy="586.88" r="2.6"/><circle cx="537.80" cy="587.55" r="2.6"/><circle cx="558.10" cy="579.51" r="2.6"/><circle cx="578.40" cy="585.77" r="2.6"/><circle cx="598.70" cy="577.50" r="2.6"/><circle cx="619.00" cy="585.99" r="2.6"/><circle cx="639.30" cy="567.90" r="2.6"/><circle cx="659.60" cy="584.43" r="2.6"/></g>
<polyline points="70.90,571.70 91.20,575.72 111.50,567.68 131.80,602.29 152.10,575.72 172.40,579.96 192.70,569.24 213.00,577.73 233.30,573.93 253.60,582.64 273.90,580.63 294.20,567.45 314.50,575.94 334.80,576.61 355.10,574.15 375.40,566.11 395.70,583.76 416.00,575.94 436.30,557.40 456.60,570.80 476.90,582.64 497.20,588.67 517.50,575.05 537.80,580.41 558.10,581.97 578.40,586.21 598.70,580.41 619.00,593.58 639.30,571.47 659.60,579.96" fill="none" stroke="#2ca02c" stroke-width="1.15" stroke-linejoin="round"/>
<g fill="#2ca02c"><circle cx="70.90" cy="571.70" r="2.6"/><circle cx="91.20" cy="575.72" r="2.6"/><circle cx="111.50" cy="567.68" r="2.6"/><circle cx="131.80" cy="602.29" r="2.6"/><circle cx="152.10" cy="575.72" r="2.6"/><circle cx="172.40" cy="579.96" r="2.6"/><circle cx="192.70" cy="569.24" r="2.6"/><circle cx="213.00" cy="577.73" r="2.6"/><circle cx="233.30" cy="573.93" r="2.6"/><circle cx="253.60" cy="582.64" r="2.6"/><circle cx="273.90" cy="580.63" r="2.6"/><circle cx="294.20" cy="567.45" r="2.6"/><circle cx="314.50" cy="575.94" r="2.6"/><circle cx="334.80" cy="576.61" r="2.6"/><circle cx="355.10" cy="574.15" r="2.6"/><circle cx="375.40" cy="566.11" r="2.6"/><circle cx="395.70" cy="583.76" r="2.6"/><circle cx="416.00" cy="575.94" r="2.6"/><circle cx="436.30" cy="557.40" r="2.6"/><circle cx="456.60" cy="570.80" r="2.6"/><circle cx="476.90" cy="582.64" r="2.6"/><circle cx="497.20" cy="588.67" r="2.6"/><circle cx="517.50" cy="575.05" r="2.6"/><circle cx="537.80" cy="580.41" r="2.6"/><circle cx="558.10" cy="581.97" r="2.6"/><circle cx="578.40" cy="586.21" r="2.6"/><circle cx="598.70" cy="580.41" r="2.6"/><circle cx="619.00" cy="593.58" r="2.6"/><circle cx="639.30" cy="571.47" r="2.6"/><circle cx="659.60" cy="579.96" r="2.6"/></g>
<polyline points="70.90,523.23 91.20,521.67 111.50,521.45 131.80,530.16 152.10,525.24 172.40,533.73 192.70,519.44 213.00,534.85 233.30,517.20 253.60,539.76 273.90,533.51 294.20,519.66 314.50,536.19 334.80,527.70 355.10,524.57 375.40,508.27 395.70,521.67 416.00,535.07 436.30,529.93 456.60,525.24 476.90,506.26 497.20,522.79 517.50,525.69 537.80,521.89 558.10,515.42 578.40,517.43 598.70,510.73 619.00,537.53 639.30,497.33 659.60,514.08" fill="none" stroke="#d62728" stroke-width="1.15" stroke-linejoin="round"/>
<g fill="#d62728"><circle cx="70.90" cy="523.23" r="2.6"/><circle cx="91.20" cy="521.67" r="2.6"/><circle cx="111.50" cy="521.45" r="2.6"/><circle cx="131.80" cy="530.16" r="2.6"/><circle cx="152.10" cy="525.24" r="2.6"/><circle cx="172.40" cy="533.73" r="2.6"/><circle cx="192.70" cy="519.44" r="2.6"/><circle cx="213.00" cy="534.85" r="2.6"/><circle cx="233.30" cy="517.20" r="2.6"/><circle cx="253.60" cy="539.76" r="2.6"/><circle cx="273.90" cy="533.51" r="2.6"/><circle cx="294.20" cy="519.66" r="2.6"/><circle cx="314.50" cy="536.19" r="2.6"/><circle cx="334.80" cy="527.70" r="2.6"/><circle cx="355.10" cy="524.57" r="2.6"/><circle cx="375.40" cy="508.27" r="2.6"/><circle cx="395.70" cy="521.67" r="2.6"/><circle cx="416.00" cy="535.07" r="2.6"/><circle cx="436.30" cy="529.93" r="2.6"/><circle cx="456.60" cy="525.24" r="2.6"/><circle cx="476.90" cy="506.26" r="2.6"/><circle cx="497.20" cy="522.79" r="2.6"/><circle cx="517.50" cy="525.69" r="2.6"/><circle cx="537.80" cy="521.89" r="2.6"/><circle cx="558.10" cy="515.42" r="2.6"/><circle cx="578.40" cy="517.43" r="2.6"/><circle cx="598.70" cy="510.73" r="2.6"/><circle cx="619.00" cy="537.53" r="2.6"/><circle cx="639.30" cy="497.33" r="2.6"/><circle cx="659.60" cy="514.08" r="2.6"/></g>
<polyline points="70.90,522.56 91.20,521.67 111.50,522.56 131.80,530.60 152.10,525.24 172.40,537.30 192.70,527.25 213.00,532.17 233.30,515.42 253.60,548.25 273.90,536.19 294.20,521.45 314.50,536.63 334.80,529.26 355.10,522.12 375.40,508.27 395.70,523.90 416.00,536.41 436.30,533.06 456.60,527.03 476.90,510.73 497.20,529.04 517.50,527.70 537.80,521.45 558.10,514.75 578.40,514.08 598.70,514.52 619.00,527.48 639.30,487.50 659.60,508.72" fill="none" stroke="#9467bd" stroke-width="1.15" stroke-linejoin="round"/>
<g fill="#9467bd"><circle cx="70.90" cy="522.56" r="2.6"/><circle cx="91.20" cy="521.67" r="2.6"/><circle cx="111.50" cy="522.56" r="2.6"/><circle cx="131.80" cy="530.60" r="2.6"/><circle cx="152.10" cy="525.24" r="2.6"/><circle cx="172.40" cy="537.30" r="2.6"/><circle cx="192.70" cy="527.25" r="2.6"/><circle cx="213.00" cy="532.17" r="2.6"/><circle cx="233.30" cy="515.42" r="2.6"/><circle cx="253.60" cy="548.25" r="2.6"/><circle cx="273.90" cy="536.19" r="2.6"/><circle cx="294.20" cy="521.45" r="2.6"/><circle cx="314.50" cy="536.63" r="2.6"/><circle cx="334.80" cy="529.26" r="2.6"/><circle cx="355.10" cy="522.12" r="2.6"/><circle cx="375.40" cy="508.27" r="2.6"/><circle cx="395.70" cy="523.90" r="2.6"/><circle cx="416.00" cy="536.41" r="2.6"/><circle cx="436.30" cy="533.06" r="2.6"/><circle cx="456.60" cy="527.03" r="2.6"/><circle cx="476.90" cy="510.73" r="2.6"/><circle cx="497.20" cy="529.04" r="2.6"/><circle cx="517.50" cy="527.70" r="2.6"/><circle cx="537.80" cy="521.45" r="2.6"/><circle cx="558.10" cy="514.75" r="2.6"/><circle cx="578.40" cy="514.08" r="2.6"/><circle cx="598.70" cy="514.52" r="2.6"/><circle cx="619.00" cy="527.48" r="2.6"/><circle cx="639.30" cy="487.50" r="2.6"/><circle cx="659.60" cy="508.72" r="2.6"/></g>
</g>
<line x1="70.90" y1="454.00" x2="70.90" y2="607.80" stroke="#3a3a3a" stroke-width="1.2"/>
<line x1="659.60" y1="454.00" x2="659.60" y2="607.80" stroke="#3a3a3a" stroke-width="1.2"/>
<line x1="70.30" y1="454.00" x2="660.20" y2="454.00" stroke="#3a3a3a" stroke-width="1.3"/>
<g stroke="#3a3a3a" stroke-width="1.1"><line x1="70.90" y1="607.80" x2="70.90" y2="610.40" /><rect x="90" y="607.80" width="3" height="2.60" fill="#dedede" stroke="none"/><rect x="111" y="607.80" width="2" height="2.60" fill="#505050" stroke="none"/><rect x="130" y="607.80" width="3" height="2.60" fill="#dedede" stroke="none"/><rect x="151" y="607.80" width="2" height="2.60" fill="#a0a0a0" stroke="none"/><rect x="171" y="607.80" width="3" height="2.60" fill="#dedede" stroke="none"/><rect x="192" y="607.80" width="2" height="2.60" fill="#a0a0a0" stroke="none"/><rect x="212" y="607.80" width="2" height="2.60" fill="#505050" stroke="none"/><rect x="232" y="607.80" width="3" height="2.60" fill="#dedede" stroke="none"/><rect x="253" y="607.80" width="2" height="2.60" fill="#505050" stroke="none"/><rect x="273" y="607.80" width="2" height="2.60" fill="#a0a0a0" stroke="none"/><rect x="293" y="607.80" width="2" height="2.60" fill="#505050" stroke="none"/><rect x="313" y="607.80" width="3" height="2.60" fill="#dedede" stroke="none"/><rect x="334" y="607.80" width="2" height="2.60" fill="#a0a0a0" stroke="none"/><rect x="354" y="607.80" width="2" height="2.60" fill="#505050" stroke="none"/><rect x="374" y="607.80" width="3" height="2.60" fill="#dedede" stroke="none"/><rect x="395" y="607.80" width="2" height="2.60" fill="#505050" stroke="none"/><rect x="415" y="607.80" width="3" height="2.60" fill="#dedede" stroke="none"/><rect x="435" y="607.80" width="2" height="2.60" fill="#a0a0a0" stroke="none"/><rect x="456" y="607.80" width="2" height="2.60" fill="#505050" stroke="none"/><rect x="476" y="607.80" width="2" height="2.60" fill="#a0a0a0" stroke="none"/><rect x="496" y="607.80" width="2" height="2.60" fill="#505050" stroke="none"/><rect x="516" y="607.80" width="3" height="2.60" fill="#dedede" stroke="none"/><rect x="537" y="607.80" width="2" height="2.60" fill="#505050" stroke="none"/><rect x="557" y="607.80" width="3" height="2.60" fill="#dedede" stroke="none"/><rect x="577" y="607.80" width="2" height="2.60" fill="#a0a0a0" stroke="none"/><rect x="598" y="607.80" width="2" height="2.60" fill="#505050" stroke="none"/><rect x="618" y="607.80" width="3" height="2.60" fill="#dedede" stroke="none"/><rect x="638" y="607.80" width="2" height="2.60" fill="#505050" stroke="none"/><line x1="659.60" y1="607.80" x2="659.60" y2="610.40" /><line x1="68.40" y1="588.00" x2="70.90" y2="588.00" /><line x1="68.40" y1="565.67" x2="70.90" y2="565.67" /><line x1="68.40" y1="543.33" x2="70.90" y2="543.33" /><line x1="68.40" y1="521.00" x2="70.90" y2="521.00" /><line x1="68.40" y1="498.67" x2="70.90" y2="498.67" /><line x1="68.40" y1="476.33" x2="70.90" y2="476.33" /><line x1="68.40" y1="454.00" x2="70.90" y2="454.00" /></g>
<g font-family="'Liberation Sans', sans-serif" font-size="26.8" fill="#000" stroke="#000" stroke-width="0.25"><text x="51.40" y="595.63">0</text><path d="M54.16,560.16 L59.17,556.01 L59.17,573.29" fill="none" stroke-width="2.36" stroke-linejoin="round"/><text x="51.40" y="550.96">2</text><text x="51.48" y="528.63">3</text><text x="51.48" y="506.29">4</text><text x="51.42" y="483.96">5</text><text x="51.31" y="461.63">6</text></g>
<g transform="translate(44.30,530.90) rotate(-90)" font-family="'Liberation Sans', sans-serif" font-size="26.8" fill="#000" stroke="#000" stroke-width="0.25"><text transform="scale(0.7847,1.0000)" x="-91.62" y="0.00" stroke-width="0.65">B</text><text x="-53.95" y="0.00">I</text><text transform="scale(0.7106,1.0000)" x="-59.42" y="0.00" stroke-width="0.65">A</text><text transform="scale(0.7813,1.0000)" x="-36.48" y="0.00" stroke-width="0.65">S</text><line x1="1.14" y1="1.07" x2="13.20" y2="-20.23" stroke-width="1.61" stroke-linecap="round"/><text transform="scale(0.7765,1.0000)" x="19.54" y="0.00" stroke-width="0.65">T</text><text transform="scale(0.7311,1.0000)" x="39.61" y="0.00" stroke-width="0.65">E</text><text transform="scale(0.7440,1.0000)" x="57.66" y="0.00" stroke-width="0.65">C</text><text transform="scale(0.8298,1.0000)" x="68.15" y="0.00" stroke-width="0.65">U</text></g>
<g font-family="'Liberation Sans', sans-serif" font-size="26.8" fill="#000" stroke="#000" stroke-width="0.25"><text transform="scale(0.7860,1.0000)" x="308.95" y="448.80" stroke-width="0.65">N</text><text transform="scale(0.8258,1.0000)" x="312.56" y="448.80" stroke-width="0.65">L</text><text transform="scale(0.9200,0.9300)" x="313.81" y="479.74" stroke-width="0">(</text><text x="300.40" y="448.80">0</text><circle cx="322.20" cy="433.04" r="3.00" fill="none" stroke-width="1.26"/><rect x="358.51" y="438.00" width="13.49" height="2.04" stroke="none"/><text x="386.58" y="448.80">3</text><text x="400.85" y="448.80">0</text><circle cx="422.65" cy="433.04" r="3.00" fill="none" stroke-width="1.26"/><text transform="scale(0.7860,1.0000)" x="564.54" y="448.80" stroke-width="0.65">N</text><text transform="scale(0.9200,0.9300)" x="502.49" y="479.74" stroke-width="0">)</text></g>
<g stroke="#dcdcdc" stroke-width="1" fill="none"><rect x="744" y="454.00" width="2" height="153.60" fill="#cbcbcb" stroke="none"/><rect x="765" y="454.00" width="2" height="153.60" fill="#e7e7e7" stroke="none"/><rect x="785" y="454.00" width="2" height="153.60" fill="#cbcbcb" stroke="none"/><rect x="805" y="454.00" width="3" height="153.60" fill="#f4f4f4" stroke="none"/><rect x="826" y="454.00" width="2" height="153.60" fill="#cbcbcb" stroke="none"/><rect x="845" y="454.00" width="3" height="153.60" fill="#f4f4f4" stroke="none"/><rect x="866" y="454.00" width="2" height="153.60" fill="#e7e7e7" stroke="none"/><rect x="886" y="454.00" width="3" height="153.60" fill="#f4f4f4" stroke="none"/><rect x="906" y="454.00" width="3" height="153.60" fill="#f4f4f4" stroke="none"/><rect x="927" y="454.00" width="2" height="153.60" fill="#cbcbcb" stroke="none"/><rect x="947" y="454.00" width="3" height="153.60" fill="#f4f4f4" stroke="none"/><rect x="968" y="454.00" width="2" height="153.60" fill="#cbcbcb" stroke="none"/><rect x="988" y="454.00" width="2" height="153.60" fill="#e7e7e7" stroke="none"/><rect x="1008" y="454.00" width="2" height="153.60" fill="#cbcbcb" stroke="none"/><rect x="1029" y="454.00" width="2" height="153.60" fill="#e7e7e7" stroke="none"/><rect x="1049" y="454.00" width="3" height="153.60" fill="#f4f4f4" stroke="none"/><rect x="1069" y="454.00" width="2" height="153.60" fill="#e7e7e7" stroke="none"/><rect x="1089" y="454.00" width="3" height="153.60" fill="#f4f4f4" stroke="none"/><rect x="1110" y="454.00" width="2" height="153.60" fill="#e7e7e7" stroke="none"/><rect x="1130" y="454.00" width="2" height="153.60" fill="#cbcbcb" stroke="none"/><rect x="1151" y="454.00" width="2" height="153.60" fill="#e7e7e7" stroke="none"/><rect x="1171" y="454.00" width="2" height="153.60" fill="#cbcbcb" stroke="none"/><rect x="1191" y="454.00" width="3" height="153.60" fill="#f4f4f4" stroke="none"/><rect x="1212" y="454.00" width="2" height="153.60" fill="#cbcbcb" stroke="none"/><rect x="1231" y="454.00" width="3" height="153.60" fill="#f4f4f4" stroke="none"/><rect x="1252" y="454.00" width="3" height="153.60" fill="#f4f4f4" stroke="none"/><rect x="1272" y="454.00" width="3" height="153.60" fill="#f4f4f4" stroke="none"/><rect x="1292" y="454.00" width="3" height="153.60" fill="#f4f4f4" stroke="none"/><line x1="725.00" y1="588.90" x2="1314.10" y2="588.90" /><line x1="725.00" y1="566.42" x2="1314.10" y2="566.42" /><line x1="725.00" y1="543.93" x2="1314.10" y2="543.93" /><line x1="725.00" y1="521.45" x2="1314.10" y2="521.45" /><line x1="725.00" y1="498.97" x2="1314.10" y2="498.97" /><line x1="725.00" y1="476.48" x2="1314.10" y2="476.48" /><line x1="725.00" y1="454.00" x2="1314.10" y2="454.00" /></g>
<line x1="725.00" y1="607.60" x2="1314.10" y2="607.60" stroke="#cfcfcf" stroke-width="1.2"/>
<clipPath id="clipSL"><rect x="725.00" y="454.00" width="589.10" height="153.60"/></clipPath>
<g clip-path="url(#clipSL)">
<polyline points="725.00,586.88 745.31,586.65 765.63,580.58 785.94,577.21 806.26,583.50 826.57,584.85 846.88,584.40 867.20,578.11 887.51,582.60 907.82,584.40 928.14,589.80 948.45,586.20 968.77,583.73 989.08,579.91 1009.39,582.60 1029.71,579.01 1050.02,579.91 1070.33,583.50 1090.65,584.18 1110.96,581.93 1131.28,581.26 1151.59,579.91 1171.90,582.60 1192.22,585.75 1212.53,582.60 1232.84,583.05 1253.16,581.03 1273.47,584.18 1293.79,581.03 1314.10,581.93" fill="none" stroke="#1f77b4" stroke-width="1.15" stroke-linejoin="round"/>
<g fill="#1f77b4"><circle cx="725.00" cy="586.88" r="2.6"/><circle cx="745.31" cy="586.65" r="2.6"/><circle cx="765.63" cy="580.58" r="2.6"/><circle cx="785.94" cy="577.21" r="2.6"/><circle cx="806.26" cy="583.50" r="2.6"/><circle cx="826.57" cy="584.85" r="2.6"/><circle cx="846.88" cy="584.40" r="2.6"/><circle cx="867.20" cy="578.11" r="2.6"/><circle cx="887.51" cy="582.60" r="2.6"/><circle cx="907.82" cy="584.40" r="2.6"/><circle cx="928.14" cy="589.80" r="2.6"/><circle cx="948.45" cy="586.20" r="2.6"/><circle cx="968.77" cy="583.73" r="2.6"/><circle cx="989.08" cy="579.91" r="2.6"/><circle cx="1009.39" cy="582.60" r="2.6"/><circle cx="1029.71" cy="579.01" r="2.6"/><circle cx="1050.02" cy="579.91" r="2.6"/><circle cx="1070.33" cy="583.50" r="2.6"/><circle cx="1090.65" cy="584.18" r="2.6"/><circle cx="1110.96" cy="581.93" r="2.6"/><circle cx="1131.28" cy="581.26" r="2.6"/><circle cx="1151.59" cy="579.91" r="2.6"/><circle cx="1171.90" cy="582.60" r="2.6"/><circle cx="1192.22" cy="585.75" r="2.6"/><circle cx="1212.53" cy="582.60" r="2.6"/><circle cx="1232.84" cy="583.05" r="2.6"/><circle cx="1253.16" cy="581.03" r="2.6"/><circle cx="1273.47" cy="584.18" r="2.6"/><circle cx="1293.79" cy="581.03" r="2.6"/><circle cx="1314.10" cy="581.93" r="2.6"/></g>
<polyline points="725.00,592.27 745.31,593.62 765.63,584.40 785.94,590.92 806.26,584.40 826.57,592.95 846.88,590.92 867.20,589.57 887.51,585.53 907.82,594.07 928.14,592.72 948.45,589.12 968.77,588.00 989.08,585.75 1009.39,586.65 1029.71,583.73 1050.02,585.98 1070.33,589.80 1090.65,589.12 1110.96,584.85 1131.28,571.36 1151.59,583.28 1171.90,588.23 1192.22,589.57 1212.53,582.38 1232.84,580.13 1253.16,577.43 1273.47,587.10 1293.79,578.56 1314.10,576.31" fill="none" stroke="#ff7f0e" stroke-width="1.15" stroke-linejoin="round"/>
<g fill="#ff7f0e"><circle cx="725.00" cy="592.27" r="2.6"/><circle cx="745.31" cy="593.62" r="2.6"/><circle cx="765.63" cy="584.40" r="2.6"/><circle cx="785.94" cy="590.92" r="2.6"/><circle cx="806.26" cy="584.40" r="2.6"/><circle cx="826.57" cy="592.95" r="2.6"/><circle cx="846.88" cy="590.92" r="2.6"/><circle cx="867.20" cy="589.57" r="2.6"/><circle cx="887.51" cy="585.53" r="2.6"/><circle cx="907.82" cy="594.07" r="2.6"/><circle cx="928.14" cy="592.72" r="2.6"/><circle cx="948.45" cy="589.12" r="2.6"/><circle cx="968.77" cy="588.00" r="2.6"/><circle cx="989.08" cy="585.75" r="2.6"/><circle cx="1009.39" cy="586.65" r="2.6"/><circle cx="1029.71" cy="583.73" r="2.6"/><circle cx="1050.02" cy="585.98" r="2.6"/><circle cx="1070.33" cy="589.80" r="2.6"/><circle cx="1090.65" cy="589.12" r="2.6"/><circle cx="1110.96" cy="584.85" r="2.6"/><circle cx="1131.28" cy="571.36" r="2.6"/><circle cx="1151.59" cy="583.28" r="2.6"/><circle cx="1171.90" cy="588.23" r="2.6"/><circle cx="1192.22" cy="589.57" r="2.6"/><circle cx="1212.53" cy="582.38" r="2.6"/><circle cx="1232.84" cy="580.13" r="2.6"/><circle cx="1253.16" cy="577.43" r="2.6"/><circle cx="1273.47" cy="587.10" r="2.6"/><circle cx="1293.79" cy="578.56" r="2.6"/><circle cx="1314.10" cy="576.31" r="2.6"/></g>
<polyline points="725.00,592.27 745.31,600.82 765.63,596.54 785.94,600.82 806.26,592.05 826.57,602.17 846.88,594.07 867.20,587.33 887.51,586.20 907.82,596.77 928.14,595.20 948.45,591.60 968.77,596.99 989.08,589.80 1009.39,591.60 1029.71,587.33 1050.02,594.07 1070.33,593.40 1090.65,585.53 1110.96,592.05 1131.28,589.80 1151.59,601.04 1171.90,592.05 1192.22,593.62 1212.53,594.75 1232.84,594.52 1253.16,597.67 1273.47,603.29 1293.79,584.85 1314.10,584.40" fill="none" stroke="#2ca02c" stroke-width="1.15" stroke-linejoin="round"/>
<g fill="#2ca02c"><circle cx="725.00" cy="592.27" r="2.6"/><circle cx="745.31" cy="600.82" r="2.6"/><circle cx="765.63" cy="596.54" r="2.6"/><circle cx="785.94" cy="600.82" r="2.6"/><circle cx="806.26" cy="592.05" r="2.6"/><circle cx="826.57" cy="602.17" r="2.6"/><circle cx="846.88" cy="594.07" r="2.6"/><circle cx="867.20" cy="587.33" r="2.6"/><circle cx="887.51" cy="586.20" r="2.6"/><circle cx="907.82" cy="596.77" r="2.6"/><circle cx="928.14" cy="595.20" r="2.6"/><circle cx="948.45" cy="591.60" r="2.6"/><circle cx="968.77" cy="596.99" r="2.6"/><circle cx="989.08" cy="589.80" r="2.6"/><circle cx="1009.39" cy="591.60" r="2.6"/><circle cx="1029.71" cy="587.33" r="2.6"/><circle cx="1050.02" cy="594.07" r="2.6"/><circle cx="1070.33" cy="593.40" r="2.6"/><circle cx="1090.65" cy="585.53" r="2.6"/><circle cx="1110.96" cy="592.05" r="2.6"/><circle cx="1131.28" cy="589.80" r="2.6"/><circle cx="1151.59" cy="601.04" r="2.6"/><circle cx="1171.90" cy="592.05" r="2.6"/><circle cx="1192.22" cy="593.62" r="2.6"/><circle cx="1212.53" cy="594.75" r="2.6"/><circle cx="1232.84" cy="594.52" r="2.6"/><circle cx="1253.16" cy="597.67" r="2.6"/><circle cx="1273.47" cy="603.29" r="2.6"/><circle cx="1293.79" cy="584.85" r="2.6"/><circle cx="1314.10" cy="584.40" r="2.6"/></g>
<polyline points="725.00,551.58 745.31,555.62 765.63,549.33 785.94,547.98 806.26,545.51 826.57,559.45 846.88,554.95 867.20,541.68 887.51,539.66 907.82,557.42 928.14,559.45 948.45,542.13 968.77,557.42 989.08,546.86 1009.39,540.79 1029.71,536.96 1050.02,538.76 1070.33,548.21 1090.65,550.68 1110.96,546.63 1131.28,529.32 1151.59,539.21 1171.90,542.36 1192.22,545.28 1212.53,533.59 1232.84,531.79 1253.16,534.94 1273.47,547.31 1293.79,520.33 1314.10,521.00" fill="none" stroke="#d62728" stroke-width="1.15" stroke-linejoin="round"/>
<g fill="#d62728"><circle cx="725.00" cy="551.58" r="2.6"/><circle cx="745.31" cy="555.62" r="2.6"/><circle cx="765.63" cy="549.33" r="2.6"/><circle cx="785.94" cy="547.98" r="2.6"/><circle cx="806.26" cy="545.51" r="2.6"/><circle cx="826.57" cy="559.45" r="2.6"/><circle cx="846.88" cy="554.95" r="2.6"/><circle cx="867.20" cy="541.68" r="2.6"/><circle cx="887.51" cy="539.66" r="2.6"/><circle cx="907.82" cy="557.42" r="2.6"/><circle cx="928.14" cy="559.45" r="2.6"/><circle cx="948.45" cy="542.13" r="2.6"/><circle cx="968.77" cy="557.42" r="2.6"/><circle cx="989.08" cy="546.86" r="2.6"/><circle cx="1009.39" cy="540.79" r="2.6"/><circle cx="1029.71" cy="536.96" r="2.6"/><circle cx="1050.02" cy="538.76" r="2.6"/><circle cx="1070.33" cy="548.21" r="2.6"/><circle cx="1090.65" cy="550.68" r="2.6"/><circle cx="1110.96" cy="546.63" r="2.6"/><circle cx="1131.28" cy="529.32" r="2.6"/><circle cx="1151.59" cy="539.21" r="2.6"/><circle cx="1171.90" cy="542.36" r="2.6"/><circle cx="1192.22" cy="545.28" r="2.6"/><circle cx="1212.53" cy="533.59" r="2.6"/><circle cx="1232.84" cy="531.79" r="2.6"/><circle cx="1253.16" cy="534.94" r="2.6"/><circle cx="1273.47" cy="547.31" r="2.6"/><circle cx="1293.79" cy="520.33" r="2.6"/><circle cx="1314.10" cy="521.00" r="2.6"/></g>
<polyline points="725.00,547.31 745.31,551.35 765.63,546.41 785.94,543.93 806.26,542.81 826.57,562.59 846.88,559.67 867.20,539.66 887.51,534.27 907.82,561.25 928.14,559.90 948.45,540.34 968.77,554.95 989.08,545.28 1009.39,534.94 1029.71,533.14 1050.02,536.74 1070.33,548.88 1090.65,552.48 1110.96,546.41 1131.28,528.64 1151.59,541.01 1171.90,540.34 1192.22,541.68 1212.53,533.14 1232.84,529.99 1253.16,534.72 1273.47,539.21 1293.79,512.91 1314.10,514.26" fill="none" stroke="#9467bd" stroke-width="1.15" stroke-linejoin="round"/>
<g fill="#9467bd"><circle cx="725.00" cy="547.31" r="2.6"/><circle cx="745.31" cy="551.35" r="2.6"/><circle cx="765.63" cy="546.41" r="2.6"/><circle cx="785.94" cy="543.93" r="2.6"/><circle cx="806.26" cy="542.81" r="2.6"/><circle cx="826.57" cy="562.59" r="2.6"/><circle cx="846.88" cy="559.67" r="2.6"/><circle cx="867.20" cy="539.66" r="2.6"/><circle cx="887.51" cy="534.27" r="2.6"/><circle cx="907.82" cy="561.25" r="2.6"/><circle cx="928.14" cy="559.90" r="2.6"/><circle cx="948.45" cy="540.34" r="2.6"/><circle cx="968.77" cy="554.95" r="2.6"/><circle cx="989.08" cy="545.28" r="2.6"/><circle cx="1009.39" cy="534.94" r="2.6"/><circle cx="1029.71" cy="533.14" r="2.6"/><circle cx="1050.02" cy="536.74" r="2.6"/><circle cx="1070.33" cy="548.88" r="2.6"/><circle cx="1090.65" cy="552.48" r="2.6"/><circle cx="1110.96" cy="546.41" r="2.6"/><circle cx="1131.28" cy="528.64" r="2.6"/><circle cx="1151.59" cy="541.01" r="2.6"/><circle cx="1171.90" cy="540.34" r="2.6"/><circle cx="1192.22" cy="541.68" r="2.6"/><circle cx="1212.53" cy="533.14" r="2.6"/><circle cx="1232.84" cy="529.99" r="2.6"/><circle cx="1253.16" cy="534.72" r="2.6"/><circle cx="1273.47" cy="539.21" r="2.6"/><circle cx="1293.79" cy="512.91" r="2.6"/><circle cx="1314.10" cy="514.26" r="2.6"/></g>
</g>
<line x1="725.00" y1="454.00" x2="725.00" y2="607.60" stroke="#3a3a3a" stroke-width="1.2"/>
<line x1="1314.10" y1="454.00" x2="1314.10" y2="607.60" stroke="#3a3a3a" stroke-width="1.2"/>
<line x1="724.40" y1="454.00" x2="1314.70" y2="454.00" stroke="#3a3a3a" stroke-width="1.3"/>
<g stroke="#3a3a3a" stroke-width="1.1"><line x1="725.00" y1="607.60" x2="725.00" y2="610.50" /><rect x="744" y="607.60" width="2" height="2.90" fill="#505050" stroke="none"/><rect x="765" y="607.60" width="2" height="2.90" fill="#a0a0a0" stroke="none"/><rect x="785" y="607.60" width="2" height="2.90" fill="#505050" stroke="none"/><rect x="805" y="607.60" width="3" height="2.90" fill="#dedede" stroke="none"/><rect x="826" y="607.60" width="2" height="2.90" fill="#505050" stroke="none"/><rect x="845" y="607.60" width="3" height="2.90" fill="#dedede" stroke="none"/><rect x="866" y="607.60" width="2" height="2.90" fill="#a0a0a0" stroke="none"/><rect x="886" y="607.60" width="3" height="2.90" fill="#dedede" stroke="none"/><rect x="906" y="607.60" width="3" height="2.90" fill="#dedede" stroke="none"/><rect x="927" y="607.60" width="2" height="2.90" fill="#505050" stroke="none"/><rect x="947" y="607.60" width="3" height="2.90" fill="#dedede" stroke="none"/><rect x="968" y="607.60" width="2" height="2.90" fill="#505050" stroke="none"/><rect x="988" y="607.60" width="2" height="2.90" fill="#a0a0a0" stroke="none"/><rect x="1008" y="607.60" width="2" height="2.90" fill="#505050" stroke="none"/><rect x="1029" y="607.60" width="2" height="2.90" fill="#a0a0a0" stroke="none"/><rect x="1049" y="607.60" width="3" height="2.90" fill="#dedede" stroke="none"/><rect x="1069" y="607.60" width="2" height="2.90" fill="#a0a0a0" stroke="none"/><rect x="1089" y="607.60" width="3" height="2.90" fill="#dedede" stroke="none"/><rect x="1110" y="607.60" width="2" height="2.90" fill="#a0a0a0" stroke="none"/><rect x="1130" y="607.60" width="2" height="2.90" fill="#505050" stroke="none"/><rect x="1151" y="607.60" width="2" height="2.90" fill="#a0a0a0" stroke="none"/><rect x="1171" y="607.60" width="2" height="2.90" fill="#505050" stroke="none"/><rect x="1191" y="607.60" width="3" height="2.90" fill="#dedede" stroke="none"/><rect x="1212" y="607.60" width="2" height="2.90" fill="#505050" stroke="none"/><rect x="1231" y="607.60" width="3" height="2.90" fill="#dedede" stroke="none"/><rect x="1252" y="607.60" width="3" height="2.90" fill="#dedede" stroke="none"/><rect x="1272" y="607.60" width="3" height="2.90" fill="#dedede" stroke="none"/><rect x="1292" y="607.60" width="3" height="2.90" fill="#dedede" stroke="none"/><line x1="1314.10" y1="607.60" x2="1314.10" y2="610.50" /><line x1="722.50" y1="588.90" x2="725.00" y2="588.90" /><line x1="722.50" y1="566.42" x2="725.00" y2="566.42" /><line x1="722.50" y1="543.93" x2="725.00" y2="543.93" /><line x1="722.50" y1="521.45" x2="725.00" y2="521.45" /><line x1="722.50" y1="498.97" x2="725.00" y2="498.97" /><line x1="722.50" y1="476.48" x2="725.00" y2="476.48" /><line x1="722.50" y1="454.00" x2="725.00" y2="454.00" /></g>
<g font-family="'Liberation Sans', sans-serif" font-size="26.8" fill="#000" stroke="#000" stroke-width="0.25"><text x="705.50" y="596.53">0</text><path d="M708.26,560.91 L713.27,556.76 L713.27,574.04" fill="none" stroke-width="2.36" stroke-linejoin="round"/><text x="705.50" y="551.56">2</text><text x="705.58" y="529.08">3</text><text x="705.58" y="506.59">4</text><text x="705.52" y="484.11">5</text><text x="705.41" y="461.63">6</text></g>
<g transform="translate(698.40,530.80) rotate(-90)" font-family="'Liberation Sans', sans-serif" font-size="26.8" fill="#000" stroke="#000" stroke-width="0.25"><text transform="scale(0.7847,1.0000)" x="-91.62" y="0.00" stroke-width="0.65">B</text><text x="-53.95" y="0.00">I</text><text transform="scale(0.7106,1.0000)" x="-59.42" y="0.00" stroke-width="0.65">A</text><text transform="scale(0.7813,1.0000)" x="-36.48" y="0.00" stroke-width="0.65">S</text><line x1="1.14" y1="1.07" x2="13.20" y2="-20.23" stroke-width="1.61" stroke-linecap="round"/><text transform="scale(0.7765,1.0000)" x="19.54" y="0.00" stroke-width="0.65">T</text><text transform="scale(0.7311,1.0000)" x="39.61" y="0.00" stroke-width="0.65">E</text><text transform="scale(0.7440,1.0000)" x="57.66" y="0.00" stroke-width="0.65">C</text><text transform="scale(0.8298,1.0000)" x="68.15" y="0.00" stroke-width="0.65">U</text></g>
<g font-family="'Liberation Sans', sans-serif" font-size="26.8" fill="#000" stroke="#000" stroke-width="0.25"><text transform="scale(0.7813,1.0000)" x="1149.09" y="448.80" stroke-width="0.65">S</text><text transform="scale(0.8258,1.0000)" x="1104.89" y="448.80" stroke-width="0.65">L</text><text transform="scale(0.9200,0.9300)" x="1025.00" y="479.74" stroke-width="0">(</text><text x="954.70" y="448.80">0</text><circle cx="976.50" cy="433.04" r="3.00" fill="none" stroke-width="1.26"/><rect x="1012.81" y="438.00" width="13.49" height="2.04" stroke="none"/><text x="1040.88" y="448.80">3</text><text x="1055.15" y="448.80">0</text><circle cx="1076.95" cy="433.04" r="3.00" fill="none" stroke-width="1.26"/><text transform="scale(0.7813,1.0000)" x="1406.23" y="448.80" stroke-width="0.65">S</text><text transform="scale(0.9200,0.9300)" x="1213.68" y="479.74" stroke-width="0">)</text></g>
<g font-family="'Liberation Sans', sans-serif" font-size="26.8" fill="#000" stroke="#000" stroke-width="0.25"><g transform="translate(78.10,657.80) rotate(-90)"><text x="-0.38" y="0.00">2</text><path d="M16.54,-13.13 L21.55,-17.29 L21.55,0.00" fill="none" stroke-width="2.36" stroke-linejoin="round"/><text x="28.00" y="0.00">3</text></g><g transform="translate(98.40,657.80) rotate(-90)"><text x="-0.38" y="0.00">2</text><path d="M16.54,-13.13 L21.55,-17.29 L21.55,0.00" fill="none" stroke-width="2.36" stroke-linejoin="round"/><text x="28.01" y="0.00">4</text></g><g transform="translate(118.70,657.80) rotate(-90)"><text x="-0.38" y="0.00">2</text><path d="M16.54,-13.13 L21.55,-17.29 L21.55,0.00" fill="none" stroke-width="2.36" stroke-linejoin="round"/><text x="27.95" y="0.00">5</text></g><g transform="translate(139.00,657.80) rotate(-90)"><text x="-0.38" y="0.00">2</text><path d="M16.54,-13.13 L21.55,-17.29 L21.55,0.00" fill="none" stroke-width="2.36" stroke-linejoin="round"/><text x="27.83" y="0.00">6</text></g><g transform="translate(159.30,657.80) rotate(-90)"><text x="-0.38" y="0.00">2</text><path d="M16.54,-13.13 L21.55,-17.29 L21.55,0.00" fill="none" stroke-width="2.36" stroke-linejoin="round"/><text x="27.91" y="0.00">7</text></g><g transform="translate(179.60,657.80) rotate(-90)"><text x="-0.38" y="0.00">2</text><path d="M16.54,-13.13 L21.55,-17.29 L21.55,0.00" fill="none" stroke-width="2.36" stroke-linejoin="round"/><text x="27.92" y="0.00">8</text></g><g transform="translate(199.90,657.80) rotate(-90)"><text x="-0.38" y="0.00">2</text><path d="M16.54,-13.13 L21.55,-17.29 L21.55,0.00" fill="none" stroke-width="2.36" stroke-linejoin="round"/><text x="27.93" y="0.00">9</text></g><g transform="translate(220.20,657.80) rotate(-90)"><text x="-0.38" y="0.00">2</text><text x="13.77" y="0.00">2</text><text x="27.92" y="0.00">0</text></g><g transform="translate(240.50,657.80) rotate(-90)"><text x="-0.38" y="0.00">2</text><text x="13.77" y="0.00">2</text><path d="M30.69,-13.13 L35.70,-17.29 L35.70,0.00" fill="none" stroke-width="2.36" stroke-linejoin="round"/></g><g transform="translate(260.80,657.80) rotate(-90)"><text x="-0.38" y="0.00">2</text><text x="13.77" y="0.00">2</text><text x="27.92" y="0.00">2</text></g><g transform="translate(281.10,657.80) rotate(-90)"><text x="-0.38" y="0.00">2</text><text x="13.77" y="0.00">2</text><text x="28.00" y="0.00">3</text></g><g transform="translate(301.40,657.80) rotate(-90)"><text x="-0.38" y="0.00">2</text><text x="13.77" y="0.00">2</text><text x="28.01" y="0.00">4</text></g><g transform="translate(321.70,657.80) rotate(-90)"><text x="-0.38" y="0.00">2</text><text x="13.77" y="0.00">2</text><text x="27.95" y="0.00">5</text></g><g transform="translate(342.00,657.80) rotate(-90)"><text x="-0.38" y="0.00">2</text><text x="13.77" y="0.00">2</text><text x="27.83" y="0.00">6</text></g><g transform="translate(362.30,657.80) rotate(-90)"><text x="-0.38" y="0.00">2</text><text x="13.77" y="0.00">2</text><text x="27.91" y="0.00">7</text></g><g transform="translate(382.60,657.80) rotate(-90)"><text x="-0.38" y="0.00">2</text><text x="13.77" y="0.00">2</text><text x="27.92" y="0.00">8</text></g><g transform="translate(402.90,657.80) rotate(-90)"><text x="-0.38" y="0.00">2</text><text x="13.77" y="0.00">2</text><text x="27.93" y="0.00">9</text></g><g transform="translate(423.20,657.80) rotate(-90)"><text x="-0.38" y="0.00">2</text><text x="13.85" y="0.00">3</text><text x="27.92" y="0.00">0</text></g><g transform="translate(443.50,657.80) rotate(-90)"><text x="-0.38" y="0.00">2</text><text x="13.85" y="0.00">3</text><path d="M30.69,-13.13 L35.70,-17.29 L35.70,0.00" fill="none" stroke-width="2.36" stroke-linejoin="round"/></g><g transform="translate(463.80,657.80) rotate(-90)"><text x="-0.38" y="0.00">2</text><text x="13.85" y="0.00">3</text><text x="27.92" y="0.00">2</text></g><g transform="translate(484.10,657.80) rotate(-90)"><text x="-0.38" y="0.00">2</text><text x="13.85" y="0.00">3</text><text x="28.00" y="0.00">3</text></g><g transform="translate(504.40,657.80) rotate(-90)"><text x="-0.38" y="0.00">2</text><text x="13.85" y="0.00">3</text><text x="28.01" y="0.00">4</text></g><g transform="translate(524.70,657.80) rotate(-90)"><text x="-0.38" y="0.00">2</text><text x="13.85" y="0.00">3</text><text x="27.95" y="0.00">5</text></g><g transform="translate(545.00,657.80) rotate(-90)"><text x="-0.38" y="0.00">2</text><text x="13.85" y="0.00">3</text><text x="27.83" y="0.00">6</text></g><g transform="translate(565.30,657.80) rotate(-90)"><text x="-0.38" y="0.00">2</text><text x="13.85" y="0.00">3</text><text x="27.91" y="0.00">7</text></g><g transform="translate(585.60,657.80) rotate(-90)"><text x="-0.38" y="0.00">2</text><text x="13.85" y="0.00">3</text><text x="27.92" y="0.00">8</text></g><g transform="translate(605.90,657.80) rotate(-90)"><text x="-0.38" y="0.00">2</text><text x="13.85" y="0.00">3</text><text x="27.93" y="0.00">9</text></g><g transform="translate(626.20,657.80) rotate(-90)"><text x="-0.38" y="0.00">2</text><text x="13.86" y="0.00">4</text><text x="27.92" y="0.00">0</text></g><g transform="translate(646.50,657.80) rotate(-90)"><text x="-0.38" y="0.00">2</text><text x="13.86" y="0.00">4</text><path d="M30.69,-13.13 L35.70,-17.29 L35.70,0.00" fill="none" stroke-width="2.36" stroke-linejoin="round"/></g><g transform="translate(666.80,657.80) rotate(-90)"><text x="-0.38" y="0.00">2</text><text x="13.86" y="0.00">4</text><text x="27.92" y="0.00">2</text></g></g>
<g font-family="'Liberation Sans', sans-serif" font-size="26.8" fill="#000" stroke="#000" stroke-width="0.25"><g transform="translate(732.20,657.80) rotate(-90)"><text x="-0.38" y="0.00">2</text><path d="M16.54,-13.13 L21.55,-17.29 L21.55,0.00" fill="none" stroke-width="2.36" stroke-linejoin="round"/><text x="28.00" y="0.00">3</text></g><g transform="translate(752.51,657.80) rotate(-90)"><text x="-0.38" y="0.00">2</text><path d="M16.54,-13.13 L21.55,-17.29 L21.55,0.00" fill="none" stroke-width="2.36" stroke-linejoin="round"/><text x="28.01" y="0.00">4</text></g><g transform="translate(772.83,657.80) rotate(-90)"><text x="-0.38" y="0.00">2</text><path d="M16.54,-13.13 L21.55,-17.29 L21.55,0.00" fill="none" stroke-width="2.36" stroke-linejoin="round"/><text x="27.95" y="0.00">5</text></g><g transform="translate(793.14,657.80) rotate(-90)"><text x="-0.38" y="0.00">2</text><path d="M16.54,-13.13 L21.55,-17.29 L21.55,0.00" fill="none" stroke-width="2.36" stroke-linejoin="round"/><text x="27.83" y="0.00">6</text></g><g transform="translate(813.46,657.80) rotate(-90)"><text x="-0.38" y="0.00">2</text><path d="M16.54,-13.13 L21.55,-17.29 L21.55,0.00" fill="none" stroke-width="2.36" stroke-linejoin="round"/><text x="27.91" y="0.00">7</text></g><g transform="translate(833.77,657.80) rotate(-90)"><text x="-0.38" y="0.00">2</text><path d="M16.54,-13.13 L21.55,-17.29 L21.55,0.00" fill="none" stroke-width="2.36" stroke-linejoin="round"/><text x="27.92" y="0.00">8</text></g><g transform="translate(854.08,657.80) rotate(-90)"><text x="-0.38" y="0.00">2</text><path d="M16.54,-13.13 L21.55,-17.29 L21.55,0.00" fill="none" stroke-width="2.36" stroke-linejoin="round"/><text x="27.93" y="0.00">9</text></g><g transform="translate(874.40,657.80) rotate(-90)"><text x="-0.38" y="0.00">2</text><text x="13.77" y="0.00">2</text><text x="27.92" y="0.00">0</text></g><g transform="translate(894.71,657.80) rotate(-90)"><text x="-0.38" y="0.00">2</text><text x="13.77" y="0.00">2</text><path d="M30.69,-13.13 L35.70,-17.29 L35.70,0.00" fill="none" stroke-width="2.36" stroke-linejoin="round"/></g><g transform="translate(915.02,657.80) rotate(-90)"><text x="-0.38" y="0.00">2</text><text x="13.77" y="0.00">2</text><text x="27.92" y="0.00">2</text></g><g transform="translate(935.34,657.80) rotate(-90)"><text x="-0.38" y="0.00">2</text><text x="13.77" y="0.00">2</text><text x="28.00" y="0.00">3</text></g><g transform="translate(955.65,657.80) rotate(-90)"><text x="-0.38" y="0.00">2</text><text x="13.77" y="0.00">2</text><text x="28.01" y="0.00">4</text></g><g transform="translate(975.97,657.80) rotate(-90)"><text x="-0.38" y="0.00">2</text><text x="13.77" y="0.00">2</text><text x="27.95" y="0.00">5</text></g><g transform="translate(996.28,657.80) rotate(-90)"><text x="-0.38" y="0.00">2</text><text x="13.77" y="0.00">2</text><text x="27.83" y="0.00">6</text></g><g transform="translate(1016.59,657.80) rotate(-90)"><text x="-0.38" y="0.00">2</text><text x="13.77" y="0.00">2</text><text x="27.91" y="0.00">7</text></g><g transform="translate(1036.91,657.80) rotate(-90)"><text x="-0.38" y="0.00">2</text><text x="13.77" y="0.00">2</text><text x="27.92" y="0.00">8</text></g><g transform="translate(1057.22,657.80) rotate(-90)"><text x="-0.38" y="0.00">2</text><text x="13.77" y="0.00">2</text><text x="27.93" y="0.00">9</text></g><g transform="translate(1077.53,657.80) rotate(-90)"><text x="-0.38" y="0.00">2</text><text x="13.85" y="0.00">3</text><text x="27.92" y="0.00">0</text></g><g transform="translate(1097.85,657.80) rotate(-90)"><text x="-0.38" y="0.00">2</text><text x="13.85" y="0.00">3</text><path d="M30.69,-13.13 L35.70,-17.29 L35.70,0.00" fill="none" stroke-width="2.36" stroke-linejoin="round"/></g><g transform="translate(1118.16,657.80) rotate(-90)"><text x="-0.38" y="0.00">2</text><text x="13.85" y="0.00">3</text><text x="27.92" y="0.00">2</text></g><g transform="translate(1138.48,657.80) rotate(-90)"><text x="-0.38" y="0.00">2</text><text x="13.85" y="0.00">3</text><text x="28.00" y="0.00">3</text></g><g transform="translate(1158.79,657.80) rotate(-90)"><text x="-0.38" y="0.00">2</text><text x="13.85" y="0.00">3</text><text x="28.01" y="0.00">4</text></g><g transform="translate(1179.10,657.80) rotate(-90)"><text x="-0.38" y="0.00">2</text><text x="13.85" y="0.00">3</text><text x="27.95" y="0.00">5</text></g><g transform="translate(1199.42,657.80) rotate(-90)"><text x="-0.38" y="0.00">2</text><text x="13.85" y="0.00">3</text><text x="27.83" y="0.00">6</text></g><g transform="translate(1219.73,657.80) rotate(-90)"><text x="-0.38" y="0.00">2</text><text x="13.85" y="0.00">3</text><text x="27.91" y="0.00">7</text></g><g transform="translate(1240.04,657.80) rotate(-90)"><text x="-0.38" y="0.00">2</text><text x="13.85" y="0.00">3</text><text x="27.92" y="0.00">8</text></g><g transform="translate(1260.36,657.80) rotate(-90)"><text x="-0.38" y="0.00">2</text><text x="13.85" y="0.00">3</text><text x="27.93" y="0.00">9</text></g><g transform="translate(1280.67,657.80) rotate(-90)"><text x="-0.38" y="0.00">2</text><text x="13.86" y="0.00">4</text><text x="27.92" y="0.00">0</text></g><g transform="translate(1300.99,657.80) rotate(-90)"><text x="-0.38" y="0.00">2</text><text x="13.86" y="0.00">4</text><path d="M30.69,-13.13 L35.70,-17.29 L35.70,0.00" fill="none" stroke-width="2.36" stroke-linejoin="round"/></g><g transform="translate(1321.30,657.80) rotate(-90)"><text x="-0.38" y="0.00">2</text><text x="13.86" y="0.00">4</text><text x="27.92" y="0.00">2</text></g></g>
<line x1="181.80" y1="33.7" x2="233.30" y2="33.7" stroke="#1f77b4" stroke-width="1.5"/>
<circle cx="207.50" cy="33.7" r="2.4" fill="#1f77b4"/>
<g font-family="'Liberation Sans', sans-serif" font-size="23.4" fill="#000" stroke="#000" stroke-width="0.25"><text transform="scale(0.6846,1.0000)" x="369.66" y="41.50" stroke-width="0.57">G</text><text transform="scale(0.7597,1.0000)" x="349.27" y="41.50" stroke-width="0.57">P</text><text transform="scale(0.7763,1.0000)" x="358.02" y="41.50" stroke-width="0.57">S</text></g>
<line x1="339.70" y1="33.7" x2="391.20" y2="33.7" stroke="#ff7f0e" stroke-width="1.5"/>
<circle cx="365.40" cy="33.7" r="2.4" fill="#ff7f0e"/>
<g font-family="'Liberation Sans', sans-serif" font-size="23.4" fill="#000" stroke="#000" stroke-width="0.25"><text transform="scale(0.6846,1.0000)" x="600.45" y="41.50" stroke-width="0.57">G</text><text transform="scale(0.8205,1.0000)" x="516.41" y="41.50" stroke-width="0.57">L</text><text transform="scale(0.6547,1.0000)" x="666.00" y="41.50" stroke-width="0.57">O</text><text transform="scale(0.7810,1.0000)" x="573.40" y="41.50" stroke-width="0.57">N</text><text transform="scale(0.7061,1.0000)" x="653.43" y="41.50" stroke-width="0.57">A</text><text transform="scale(0.7763,1.0000)" x="609.65" y="41.50" stroke-width="0.57">S</text><text transform="scale(0.7763,1.0000)" x="625.69" y="41.50" stroke-width="0.57">S</text></g>
<line x1="548.80" y1="33.7" x2="600.30" y2="33.7" stroke="#2ca02c" stroke-width="1.5"/>
<circle cx="574.50" cy="33.7" r="2.4" fill="#2ca02c"/>
<g font-family="'Liberation Sans', sans-serif" font-size="23.4" fill="#000" stroke="#000" stroke-width="0.25"><text transform="scale(0.6846,1.0000)" x="905.31" y="41.50" stroke-width="0.57">G</text><text transform="scale(0.7250,0.8200)" x="873.28" y="50.61" stroke-width="0.57">a</text><text transform="scale(1.0000,0.9500)" x="648.09" y="43.68">l</text><text transform="scale(1.0000,0.9500)" x="660.56" y="43.68">i</text><text transform="scale(1.0000,0.9500)" x="672.99" y="43.68">l</text><text transform="scale(0.7937,0.8200)" x="860.40" y="50.61" stroke-width="0.57">e</text><text transform="scale(0.8113,0.8200)" x="856.91" y="50.61" stroke-width="0.57">o</text></g>
<line x1="756.80" y1="33.7" x2="808.30" y2="33.7" stroke="#d62728" stroke-width="1.5"/>
<circle cx="782.50" cy="33.7" r="2.4" fill="#d62728"/>
<g font-family="'Liberation Sans', sans-serif" font-size="23.4" fill="#000" stroke="#000" stroke-width="0.25"><text transform="scale(0.7797,1.0000)" x="1060.92" y="41.50" stroke-width="0.57">B</text><text transform="scale(0.7186,1.0000)" x="1168.44" y="41.50" stroke-width="0.57">D</text><text transform="scale(0.7763,1.0000)" x="1098.04" y="41.50" stroke-width="0.57">S</text></g>
<line x1="915.20" y1="33.7" x2="966.70" y2="33.7" stroke="#9467bd" stroke-width="1.5"/>
<circle cx="940.90" cy="33.7" r="2.4" fill="#9467bd"/>
<g font-family="'Liberation Sans', sans-serif" font-size="23.4" fill="#000" stroke="#000" stroke-width="0.25"><text transform="scale(0.7797,1.0000)" x="1263.43" y="41.50" stroke-width="0.57">B</text><text transform="scale(0.7186,1.0000)" x="1388.16" y="41.50" stroke-width="0.57">D</text><text transform="scale(0.7763,1.0000)" x="1301.43" y="41.50" stroke-width="0.57">S</text><text transform="scale(0.9200,0.9300)" x="1113.76" y="42.15" stroke-width="0">(</text><text transform="scale(0.6761,1.0000)" x="1530.51" y="41.50" stroke-width="0.57">M</text><text transform="scale(0.7264,1.0000)" x="1442.33" y="41.50" stroke-width="0.57">E</text><text transform="scale(0.6547,1.0000)" x="1619.39" y="41.50" stroke-width="0.57">O</text><text x="1071.82" y="41.50">+</text><text x="1087.85" y="41.50">I</text><text transform="scale(0.6846,1.0000)" x="1603.17" y="41.50" stroke-width="0.57">G</text><text transform="scale(0.7763,1.0000)" x="1429.73" y="41.50" stroke-width="0.57">S</text><text transform="scale(0.6547,1.0000)" x="1714.47" y="41.50" stroke-width="0.57">O</text><text transform="scale(0.9200,0.9300)" x="1236.87" y="42.15" stroke-width="0">)</text></g>
</svg>
</body></html>
